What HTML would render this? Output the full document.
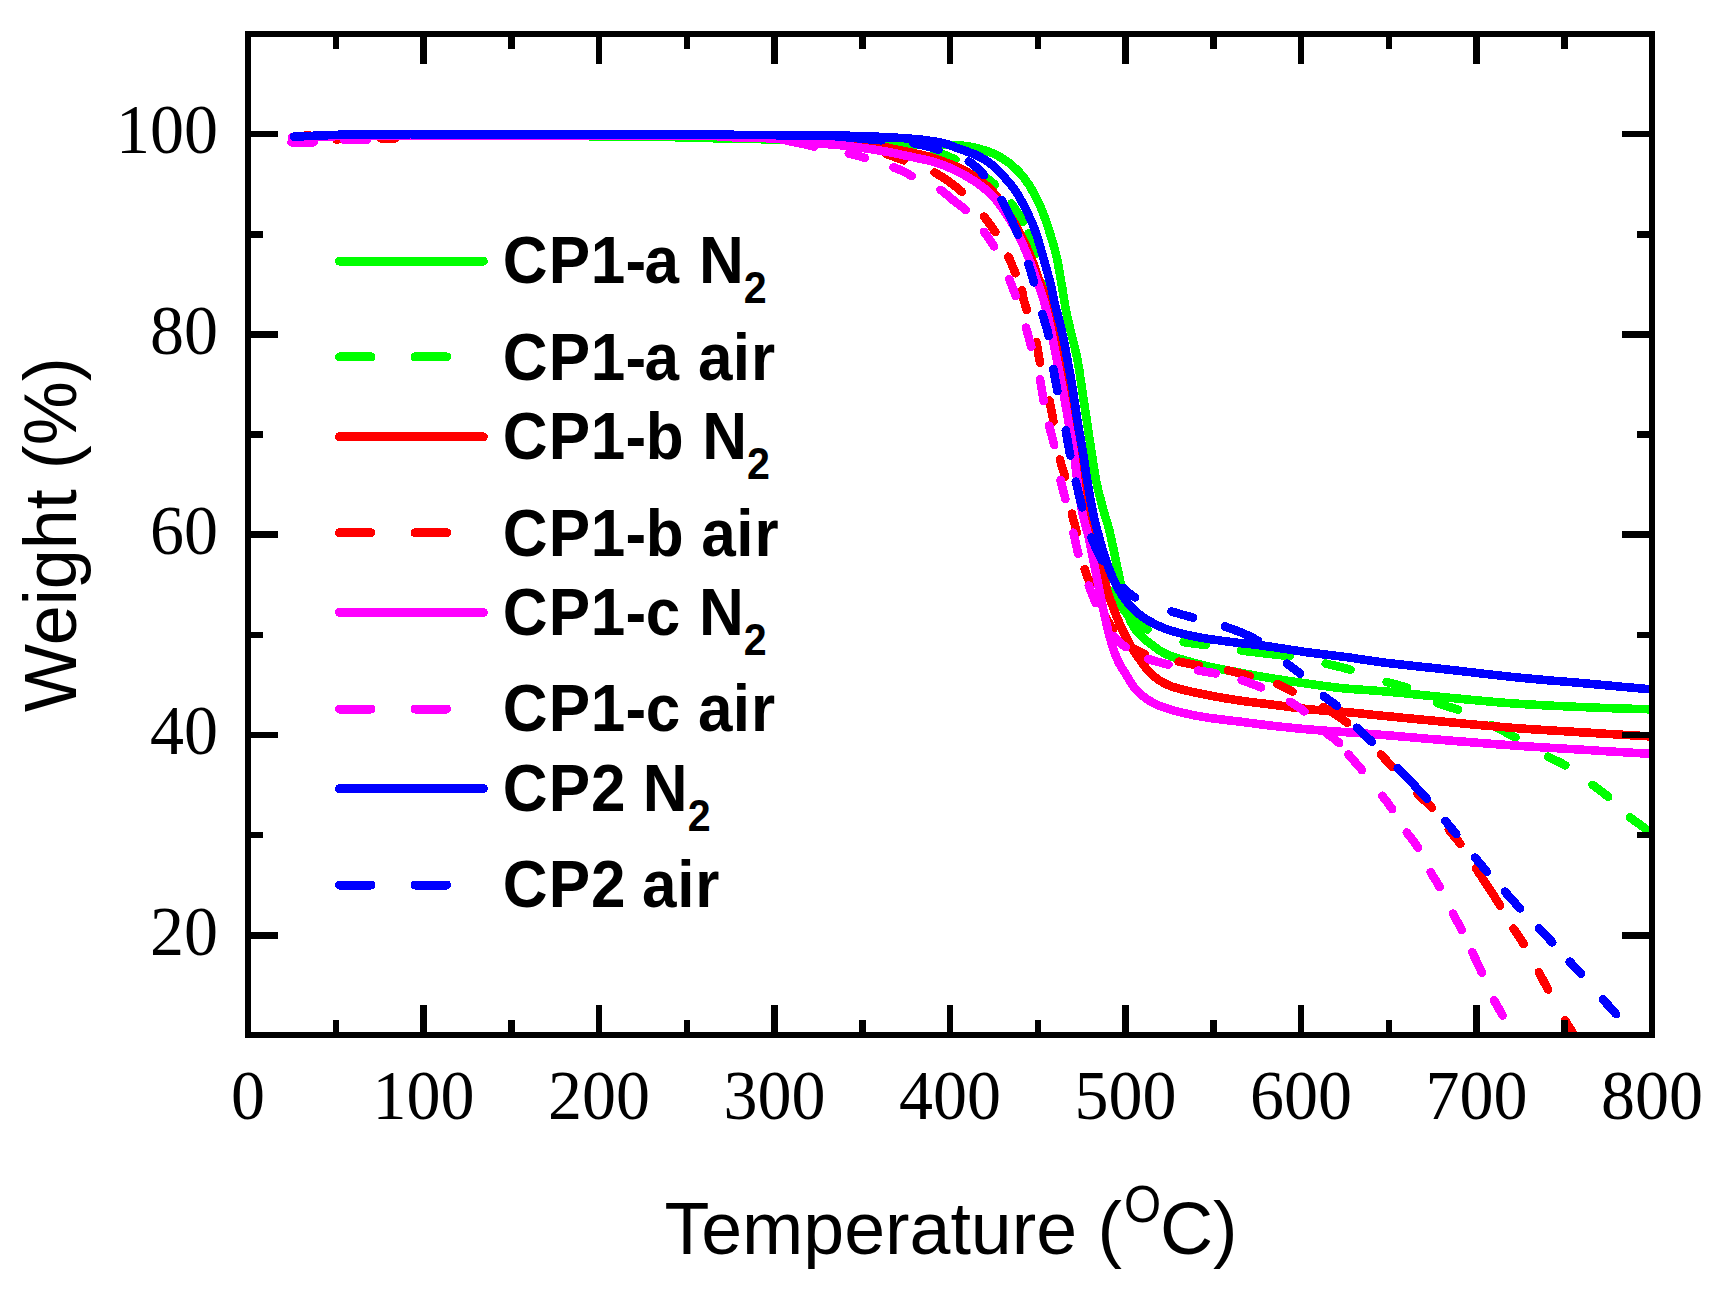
<!DOCTYPE html>
<html lang="en"><head><meta charset="utf-8"><title>TGA curves</title>
<style>html,body{margin:0;padding:0;background:#fff}svg{display:block}.tk{font-family:"Liberation Serif","Times New Roman",serif;font-size:68px;fill:#000}.ax{font-family:"Liberation Sans",Arial,sans-serif;font-size:75px;fill:#000}.lg{font-family:"Liberation Sans",Arial,sans-serif;font-weight:bold;font-size:67px;fill:#000}</style></head><body>
<svg width="1717" height="1293" viewBox="0 0 1717 1293">
<rect x="0" y="0" width="1717" height="1293" fill="#ffffff"/>
<defs><clipPath id="pc"><rect x="248" y="34" width="1404" height="1001"/></clipPath></defs>
<g clip-path="url(#pc)" fill="none" stroke-width="8.6" stroke-linecap="round" stroke-linejoin="round" shape-rendering="crispEdges">
<path stroke="#00ff00" d="M294.0 136.7 L297.1 136.6 L300.1 136.6 L303.2 136.5 L306.2 136.5 L309.3 136.4 L312.4 136.4 L315.4 136.3 L318.5 136.3 L321.5 136.2 L324.6 136.2 L327.6 136.1 L330.7 136.1 L333.7 136.0 L336.8 136.0 L339.8 135.9 L342.9 135.9 L345.9 135.8 L349.0 135.8 L352.0 135.8 L355.0 135.7 L358.1 135.7 L361.1 135.7 L364.2 135.6 L367.2 135.6 L370.2 135.6 L373.3 135.5 L376.3 135.5 L379.3 135.5 L382.4 135.4 L385.4 135.4 L388.4 135.4 L391.5 135.3 L394.5 135.3 L397.5 135.3 L400.6 135.3 L403.6 135.2 L406.6 135.2 L409.6 135.2 L412.7 135.2 L415.7 135.1 L418.7 135.1 L421.7 135.1 L424.8 135.1 L427.8 135.1 L430.8 135.0 L433.8 135.0 L436.8 135.0 L439.8 135.0 L442.9 135.0 L445.9 135.0 L448.9 135.0 L451.9 135.0 L454.9 135.0 L457.9 135.0 L460.9 135.0 L463.9 135.0 L466.9 135.0 L469.9 135.0 L472.9 135.0 L476.0 135.0 L479.0 135.0 L482.0 135.0 L485.0 135.0 L488.0 135.1 L491.0 135.1 L494.0 135.1 L497.0 135.1 L500.0 135.1 L502.9 135.1 L505.9 135.1 L508.9 135.1 L511.9 135.1 L514.9 135.2 L517.9 135.2 L520.9 135.2 L523.8 135.2 L526.8 135.2 L529.8 135.2 L532.8 135.3 L535.7 135.3 L538.7 135.3 L541.7 135.3 L544.6 135.4 L547.6 135.4 L550.5 135.5 L553.4 135.5 L556.4 135.6 L559.3 135.7 L562.2 135.8 L565.2 135.9 L568.1 135.9 L571.1 136.0 L574.0 136.0 L577.0 136.0 L579.9 136.1 L582.9 136.1 L585.9 136.1 L588.9 136.2 L591.9 136.2 L594.8 136.2 L597.8 136.2 L600.8 136.2 L603.8 136.3 L606.8 136.3 L609.8 136.3 L612.8 136.3 L615.8 136.3 L618.8 136.3 L621.8 136.4 L624.8 136.4 L627.7 136.4 L630.7 136.4 L633.7 136.4 L636.7 136.5 L639.7 136.5 L642.6 136.5 L645.6 136.5 L648.5 136.6 L651.5 136.6 L654.4 136.7 L657.4 136.7 L660.3 136.8 L663.2 136.9 L666.2 136.9 L669.1 137.0 L672.0 137.1 L674.9 137.2 L677.9 137.3 L680.8 137.4 L683.7 137.5 L686.6 137.5 L689.5 137.6 L692.5 137.7 L695.4 137.8 L698.3 137.9 L701.3 137.9 L704.2 138.0 L707.1 138.1 L710.1 138.1 L713.0 138.2 L716.0 138.2 L718.9 138.3 L721.9 138.3 L724.8 138.4 L727.8 138.5 L730.7 138.5 L733.7 138.6 L736.6 138.6 L739.5 138.7 L742.5 138.8 L745.4 138.8 L748.4 138.9 L751.3 138.9 L754.2 139.0 L757.2 139.1 L760.1 139.1 L763.0 139.2 L766.0 139.3 L768.9 139.3 L771.9 139.4 L774.8 139.5 L777.7 139.5 L780.7 139.6 L783.6 139.7 L786.5 139.7 L789.5 139.8 L792.4 139.9 L795.4 139.9 L798.3 140.0 L801.2 140.1 L804.2 140.1 L807.1 140.2 L810.1 140.3 L813.0 140.3 L815.9 140.4 L818.9 140.5 L821.8 140.5 L824.8 140.6 L827.7 140.7 L830.6 140.7 L833.6 140.8 L836.5 140.9 L839.4 140.9 L842.4 141.0 L845.3 141.1 L848.2 141.2 L851.1 141.2 L854.0 141.3 L857.0 141.4 L859.9 141.5 L862.8 141.6 L865.7 141.7 L868.6 141.8 L871.5 141.9 L874.4 142.0 L877.3 142.1 L880.2 142.2 L883.1 142.3 L885.9 142.4 L888.8 142.6 L891.7 142.7 L894.6 142.8 L897.5 142.9 L900.4 143.0 L903.3 143.2 L906.1 143.3 L909.0 143.4 L911.9 143.5 L914.8 143.6 L917.7 143.7 L920.6 143.8 L923.5 143.9 L926.5 144.0 L929.4 144.1 L932.3 144.2 L935.2 144.2 L938.2 144.3 L941.1 144.4 L943.9 144.6 L946.8 144.7 L949.7 144.8 L952.6 145.0 L955.4 145.2 L958.2 145.4 L961.0 145.6 L963.7 145.8 L966.3 146.1 L968.9 146.5 L971.4 146.9 L973.9 147.4 L976.4 148.0 L978.8 148.6 L981.2 149.3 L983.5 150.0 L985.8 150.8 L988.1 151.5 L990.2 152.3 L992.4 153.1 L994.4 154.0 L996.5 155.0 L998.4 156.1 L1000.4 157.2 L1002.2 158.3 L1004.1 159.5 L1005.8 160.7 L1007.6 162.0 L1009.3 163.2 L1011.0 164.6 L1012.6 166.0 L1014.2 167.4 L1015.8 168.8 L1017.3 170.3 L1018.8 171.8 L1020.2 173.4 L1021.6 175.0 L1023.0 176.6 L1024.3 178.3 L1025.6 180.0 L1026.8 181.8 L1028.1 183.6 L1029.3 185.4 L1030.4 187.2 L1031.5 189.1 L1032.6 191.0 L1033.7 192.9 L1034.8 194.8 L1035.8 196.8 L1036.8 198.8 L1037.8 200.8 L1038.8 202.9 L1039.7 205.0 L1040.6 207.0 L1041.5 209.1 L1042.4 211.3 L1043.2 213.4 L1044.0 215.6 L1044.8 217.8 L1045.6 220.1 L1046.4 222.3 L1047.1 224.6 L1047.9 226.8 L1048.6 229.1 L1049.3 231.4 L1050.1 233.6 L1050.8 235.9 L1051.5 238.2 L1052.2 240.5 L1052.9 242.8 L1053.6 245.2 L1054.2 247.5 L1054.9 249.9 L1055.5 252.3 L1056.1 254.7 L1056.7 257.1 L1057.2 259.5 L1057.7 262.0 L1058.2 264.6 L1058.6 267.1 L1059.1 269.6 L1059.5 272.2 L1060.0 274.8 L1060.4 277.4 L1060.8 279.9 L1061.3 282.5 L1061.7 285.0 L1062.2 287.6 L1062.6 290.2 L1063.0 292.8 L1063.4 295.4 L1063.8 298.0 L1064.3 300.6 L1064.7 303.1 L1065.1 305.7 L1065.6 308.2 L1066.1 310.8 L1066.6 313.3 L1067.1 315.7 L1067.6 318.2 L1068.2 320.6 L1068.8 323.1 L1069.4 325.5 L1069.9 327.9 L1070.5 330.3 L1071.1 332.8 L1071.7 335.2 L1072.3 337.6 L1072.9 340.0 L1073.5 342.4 L1074.1 344.8 L1074.7 347.2 L1075.2 349.7 L1075.8 352.1 L1076.4 354.5 L1076.9 357.0 L1077.4 359.5 L1077.9 362.0 L1078.3 364.6 L1078.7 367.1 L1079.2 369.7 L1079.6 372.3 L1079.9 374.9 L1080.3 377.6 L1080.7 380.2 L1081.1 382.8 L1081.5 385.4 L1081.9 388.1 L1082.3 390.7 L1082.6 393.3 L1083.0 395.9 L1083.4 398.5 L1083.8 401.1 L1084.2 403.7 L1084.6 406.3 L1085.0 408.9 L1085.4 411.5 L1085.8 414.1 L1086.2 416.7 L1086.6 419.4 L1087.0 422.0 L1087.4 424.6 L1087.8 427.2 L1088.2 429.8 L1088.5 432.4 L1088.9 435.1 L1089.3 437.7 L1089.7 440.3 L1090.1 442.9 L1090.5 445.5 L1090.9 448.1 L1091.3 450.7 L1091.7 453.3 L1092.1 456.0 L1092.5 458.6 L1092.9 461.2 L1093.3 463.8 L1093.7 466.4 L1094.1 469.0 L1094.5 471.6 L1094.9 474.1 L1095.4 476.7 L1095.8 479.2 L1096.3 481.7 L1096.9 484.2 L1097.4 486.6 L1098.0 489.1 L1098.5 491.5 L1099.1 493.9 L1099.7 496.3 L1100.4 498.7 L1101.0 501.1 L1101.6 503.5 L1102.2 505.9 L1102.9 508.2 L1103.5 510.5 L1104.2 512.9 L1104.9 515.2 L1105.6 517.5 L1106.3 519.8 L1107.0 522.1 L1107.7 524.4 L1108.4 526.8 L1109.0 529.1 L1109.6 531.5 L1110.2 534.0 L1110.7 536.4 L1111.3 538.9 L1111.8 541.3 L1112.3 543.8 L1112.8 546.3 L1113.4 548.8 L1113.9 551.3 L1114.4 553.8 L1114.9 556.3 L1115.4 558.8 L1115.9 561.2 L1116.4 563.7 L1117.0 566.2 L1117.5 568.7 L1118.1 571.1 L1118.6 573.6 L1119.1 576.0 L1119.7 578.5 L1120.2 581.0 L1120.7 583.5 L1121.3 585.9 L1121.8 588.5 L1122.2 591.0 L1122.7 593.6 L1123.1 596.2 L1123.6 598.8 L1124.0 601.3 L1124.5 603.8 L1125.1 606.2 L1125.7 608.6 L1126.4 610.8 L1127.1 613.0 L1127.9 615.2 L1128.8 617.4 L1129.8 619.5 L1130.8 621.6 L1131.8 623.6 L1132.9 625.5 L1134.0 627.3 L1135.2 629.1 L1136.4 630.7 L1137.8 632.4 L1139.2 633.9 L1140.7 635.5 L1142.2 637.0 L1143.8 638.4 L1145.4 639.8 L1147.1 641.2 L1148.8 642.5 L1150.5 643.8 L1152.2 645.1 L1153.9 646.4 L1155.6 647.7 L1157.4 648.9 L1159.2 650.2 L1161.0 651.3 L1162.9 652.5 L1164.9 653.5 L1166.9 654.5 L1168.9 655.4 L1171.1 656.2 L1173.3 657.0 L1175.7 657.7 L1178.0 658.3 L1180.3 659.0 L1182.7 659.7 L1185.0 660.4 L1187.3 661.1 L1189.7 661.7 L1192.0 662.4 L1194.4 663.0 L1196.7 663.7 L1199.1 664.3 L1201.5 664.9 L1203.9 665.5 L1206.4 666.0 L1208.8 666.6 L1211.3 667.1 L1213.7 667.7 L1216.2 668.2 L1218.7 668.7 L1221.2 669.2 L1223.8 669.7 L1226.3 670.1 L1228.8 670.6 L1231.3 671.1 L1233.9 671.6 L1236.4 672.0 L1238.9 672.5 L1241.5 673.0 L1244.0 673.5 L1246.5 673.9 L1249.1 674.4 L1251.6 674.8 L1254.2 675.3 L1256.7 675.8 L1259.3 676.2 L1261.8 676.6 L1264.4 677.1 L1267.0 677.5 L1269.5 677.9 L1272.1 678.4 L1274.7 678.8 L1277.3 679.2 L1279.9 679.6 L1282.5 680.0 L1285.1 680.4 L1287.7 680.8 L1290.3 681.2 L1292.9 681.6 L1295.5 682.0 L1298.2 682.4 L1300.8 682.7 L1303.4 683.1 L1306.1 683.5 L1308.7 683.8 L1311.3 684.2 L1314.0 684.6 L1316.6 684.9 L1319.3 685.3 L1321.9 685.7 L1324.6 686.0 L1327.2 686.4 L1329.9 686.7 L1332.5 687.1 L1335.2 687.4 L1337.9 687.7 L1340.6 688.0 L1343.3 688.3 L1346.1 688.5 L1348.8 688.8 L1351.6 689.0 L1354.4 689.2 L1357.2 689.4 L1360.0 689.6 L1362.8 689.8 L1365.6 690.0 L1368.5 690.2 L1371.3 690.3 L1374.1 690.5 L1376.9 690.8 L1379.7 691.0 L1382.4 691.2 L1385.2 691.4 L1388.0 691.7 L1390.7 691.9 L1393.5 692.2 L1396.2 692.4 L1398.9 692.7 L1401.7 693.0 L1404.4 693.2 L1407.1 693.5 L1409.9 693.8 L1412.6 694.1 L1415.3 694.4 L1418.0 694.6 L1420.8 694.9 L1423.5 695.2 L1426.2 695.5 L1428.9 695.7 L1431.7 696.0 L1434.4 696.3 L1437.1 696.6 L1439.9 696.8 L1442.6 697.1 L1445.4 697.4 L1448.1 697.6 L1450.8 697.9 L1453.6 698.1 L1456.3 698.4 L1459.1 698.6 L1461.8 698.9 L1464.6 699.2 L1467.3 699.4 L1470.1 699.7 L1472.8 700.0 L1475.6 700.2 L1478.3 700.5 L1481.1 700.7 L1483.8 701.0 L1486.6 701.2 L1489.3 701.5 L1492.1 701.7 L1494.9 702.0 L1497.6 702.2 L1500.4 702.5 L1503.2 702.7 L1505.9 702.9 L1508.7 703.1 L1511.5 703.3 L1514.3 703.5 L1517.1 703.7 L1519.9 703.9 L1522.7 704.1 L1525.6 704.2 L1528.4 704.4 L1531.2 704.6 L1534.0 704.7 L1536.9 704.9 L1539.7 705.1 L1542.6 705.2 L1545.4 705.4 L1548.3 705.5 L1551.2 705.7 L1554.0 705.8 L1556.9 706.0 L1559.8 706.1 L1562.6 706.2 L1565.5 706.4 L1568.4 706.5 L1571.3 706.6 L1574.1 706.7 L1577.0 706.9 L1579.9 707.0 L1582.8 707.1 L1585.7 707.2 L1588.6 707.3 L1591.4 707.5 L1594.3 707.6 L1597.2 707.7 L1600.1 707.8 L1603.0 707.9 L1605.9 708.0 L1608.8 708.1 L1611.8 708.2 L1614.7 708.3 L1617.6 708.3 L1620.5 708.4 L1623.4 708.5 L1626.3 708.6 L1629.2 708.7 L1632.2 708.8 L1635.1 708.9 L1638.0 709.0 L1640.9 709.0 L1643.8 709.1 L1646.7 709.2 L1649.7 709.3 L1652.6 709.4 L1655.5 709.5 L1658.4 709.6 L1661.3 709.7 L1664.2 709.8 L1667.1 709.9 L1670.0 710.0"/>
<path stroke="#00ff00" d="M294.0 136.7 L297.1 136.6 L300.1 136.6 L303.2 136.5 L306.3 136.5 L309.3 136.4 L312.4 136.4 L315.5 136.3 L318.5 136.3 L321.6 136.2 L324.6 136.2 L327.7 136.1 L330.8 136.1 L333.8 136.0 L336.9 136.0 L339.9 135.9 L343.0 135.9 L346.0 135.8 L349.1 135.8 L352.1 135.8 L355.2 135.7 L358.2 135.7 L361.3 135.7 L364.3 135.6 L367.4 135.6 L370.4 135.6 L373.5 135.5 L376.5 135.5 L379.5 135.5 L382.6 135.4 L385.6 135.4 L388.7 135.4 L391.7 135.3 L394.7 135.3 L397.8 135.3 L400.8 135.3 L403.9 135.2 L406.9 135.2 L409.9 135.2 L413.0 135.2 L416.0 135.1 L419.0 135.1 L422.0 135.1 L425.1 135.1 L428.1 135.1 L431.1 135.0 L434.2 135.0 L437.2 135.0 L440.2 135.0 L443.2 135.0 L446.2 135.0 L449.3 135.0 L452.3 135.0 L455.3 135.0 L458.3 135.0 L461.3 135.0 L464.3 135.0 L467.4 135.0 L470.4 135.0 L473.4 135.0 L476.4 135.0 L479.4 135.0 L482.4 135.0 L485.4 135.0 L488.4 135.1 L491.4 135.1 L494.5 135.1 L497.5 135.1 L500.5 135.1 L503.5 135.1 L506.5 135.1 L509.5 135.1 L512.5 135.1 L515.4 135.2 L518.4 135.2 L521.4 135.2 L524.4 135.2 L527.4 135.2 L530.4 135.2 L533.4 135.3 L536.3 135.3 L539.3 135.3 L542.3 135.3 L545.2 135.4 L548.2 135.4 L551.1 135.5 L554.1 135.6 L557.0 135.6 L559.9 135.7 L562.9 135.8 L565.8 135.9 L568.8 135.9 L571.7 136.0 L574.7 136.0 L577.7 136.1 L580.6 136.1 L583.6 136.1 L586.6 136.1 L589.6 136.2 L592.6 136.2 L595.6 136.2 L598.6 136.2 L601.6 136.2 L604.6 136.3 L607.6 136.3 L610.6 136.3 L613.6 136.3 L616.6 136.3 L619.6 136.3 L622.6 136.4 L625.6 136.4 L628.6 136.4 L631.6 136.4 L634.5 136.4 L637.5 136.5 L640.5 136.5 L643.5 136.5 L646.4 136.6 L649.4 136.6 L652.4 136.6 L655.3 136.7 L658.3 136.7 L661.2 136.8 L664.1 136.9 L667.1 137.0 L670.0 137.0 L672.9 137.1 L675.9 137.2 L678.8 137.3 L681.7 137.4 L684.6 137.5 L687.6 137.6 L690.5 137.7 L693.4 137.7 L696.4 137.8 L699.3 137.9 L702.2 137.9 L705.2 138.0 L708.1 138.1 L711.1 138.1 L714.0 138.2 L717.0 138.2 L720.0 138.3 L722.9 138.4 L725.9 138.4 L728.8 138.5 L731.8 138.5 L734.7 138.6 L737.7 138.7 L740.6 138.7 L743.6 138.8 L746.5 138.8 L749.5 138.9 L752.4 139.0 L755.4 139.0 L758.3 139.1 L761.3 139.2 L764.2 139.2 L767.1 139.3 L770.1 139.4 L773.0 139.4 L776.0 139.5 L778.9 139.6 L781.8 139.6 L784.8 139.7 L787.7 139.8 L790.7 139.9 L793.6 139.9 L796.6 140.0 L799.6 140.0 L802.5 140.1 L805.5 140.2 L808.4 140.2 L811.4 140.3 L814.4 140.4 L817.3 140.5 L820.3 140.5 L823.2 140.6 L826.1 140.7 L829.1 140.8 L832.0 140.8 L834.9 140.9 L837.9 141.0 L840.8 141.1 L843.7 141.2 L846.6 141.3 L849.5 141.4 L852.4 141.5 L855.2 141.6 L858.1 141.7 L860.9 141.8 L863.8 142.0 L866.7 142.1 L869.5 142.3 L872.4 142.4 L875.3 142.6 L878.2 142.8 L881.0 143.0 L883.9 143.2 L886.8 143.4 L889.6 143.6 L892.4 143.8 L895.3 144.1 L898.0 144.3 L900.8 144.6 L903.5 144.9 L906.2 145.2 L908.9 145.5 L911.5 145.8 L914.1 146.2 M934.1 150.7 L936.4 151.5 L938.6 152.3 L940.8 153.2 L942.9 154.1 L945.1 155.0 L947.2 155.9 L949.2 156.8 L951.3 157.7 L953.4 158.6 L955.4 159.5 M978.2 172.0 L980.0 173.2 L981.8 174.4 L983.5 175.7 L985.3 176.9 L987.0 178.2 L988.6 179.5 L990.3 180.8 L991.8 182.1 L993.4 183.5 L995.0 184.9 M1011.5 203.5 L1012.8 205.3 L1014.0 207.0 L1015.2 208.8 L1016.4 210.6 L1017.6 212.4 L1018.7 214.2 L1019.8 216.1 L1020.9 218.0 L1022.0 219.9 L1023.0 221.9 M1028.5 233.5 L1029.5 235.6 L1030.4 237.8 L1031.3 240.0 L1032.3 242.2 L1033.2 244.4 L1034.0 246.6 L1034.9 248.9 L1035.7 251.1 L1036.6 253.4 M1046.3 283.7 L1047.0 286.3 L1047.7 288.8 L1048.4 291.4 L1049.0 294.0 L1049.7 296.5 L1050.3 299.1 L1051.0 301.7 L1051.6 304.4 M1059.3 338.7 L1059.8 341.4 L1060.4 344.1 L1060.9 346.8 L1061.5 349.5 L1062.0 352.3 L1062.5 355.0 L1063.0 357.7 L1063.6 360.4 M1069.8 396.2 L1070.2 399.0 L1070.6 401.9 L1071.0 404.7 L1071.5 407.5 L1071.9 410.4 L1072.3 413.2 L1072.7 416.1 L1073.1 418.9 M1079.3 454.7 L1079.7 457.5 L1080.2 460.3 L1080.6 463.1 L1081.0 466.0 L1081.5 468.8 L1081.9 471.6 L1082.3 474.4 L1082.8 477.2 M1089.0 513.0 L1089.6 515.6 L1090.2 518.3 L1090.8 521.0 L1091.4 523.6 L1092.0 526.3 L1092.6 528.9 L1093.2 531.5 L1093.9 534.1 M1100.7 559.3 L1101.5 561.8 L1102.3 564.2 L1103.1 566.7 L1103.9 569.1 L1104.7 571.5 L1105.6 573.9 L1106.5 576.3 L1107.4 578.6 M1112.9 591.1 L1113.9 593.2 L1114.9 595.2 L1116.0 597.1 L1117.1 599.1 L1118.2 601.0 L1119.3 602.9 L1120.5 604.8 L1121.7 606.7 L1122.9 608.5 L1124.1 610.4 L1125.4 612.2 L1126.7 613.9 L1128.1 615.5 L1129.5 617.0 L1131.1 618.5 L1132.7 619.9 L1134.5 621.2 L1136.3 622.5 L1138.1 623.7 L1139.9 624.9 L1141.8 626.1 L1143.7 627.2 L1145.6 628.3 L1147.6 629.4 M1183.6 642.1 L1186.2 642.5 L1188.9 642.9 L1191.7 643.3 L1194.4 643.6 L1197.2 643.9 L1200.0 644.3 L1202.8 644.6 L1205.6 645.0 M1240.9 650.5 L1243.6 650.8 L1246.3 651.2 L1249.0 651.5 L1251.7 651.8 L1254.4 652.1 L1257.1 652.4 L1259.8 652.8 L1262.5 653.1 L1265.2 653.4 L1268.0 653.7 L1270.7 654.0 L1273.4 654.3 L1276.1 654.6 L1278.9 655.0 L1281.6 655.3 L1284.3 655.6 L1287.0 655.9 L1289.7 656.3 M1325.7 663.6 L1328.2 664.2 L1330.7 664.8 L1333.2 665.4 L1335.7 665.9 L1338.2 666.5 L1340.7 667.1 L1343.2 667.7 L1345.7 668.4 L1348.1 669.0 L1350.5 669.7 M1386.6 681.9 L1389.1 682.6 L1391.7 683.3 L1394.3 684.0 L1396.9 684.7 L1399.4 685.4 L1402.0 686.1 L1404.5 686.9 L1406.9 687.7 M1437.4 703.2 L1439.6 704.0 L1441.9 704.7 L1444.2 705.4 L1446.6 706.2 L1448.9 706.9 L1451.3 707.6 L1453.6 708.3 L1456.0 709.0 L1458.2 709.8 M1491.5 725.1 L1493.5 726.1 L1495.5 727.1 L1497.6 728.1 L1499.6 729.1 L1501.6 730.1 L1503.6 731.2 L1505.5 732.2 L1507.5 733.2 L1509.5 734.3 L1511.5 735.3 L1513.4 736.4 L1515.4 737.4 M1548.2 756.7 L1550.3 757.8 L1552.5 758.9 L1554.6 759.9 L1556.8 761.0 L1559.0 762.0 L1561.1 763.1 L1563.2 764.2 L1565.3 765.3 M1592.6 784.9 L1594.3 786.2 L1596.1 787.5 L1597.8 788.8 L1599.6 790.1 L1601.3 791.4 L1603.1 792.7 L1604.8 794.0 L1606.5 795.4 L1608.2 796.8 M1630.1 817.3 L1631.8 818.7 L1633.6 820.0 L1635.3 821.3 L1637.1 822.6 L1638.9 823.9 L1640.7 825.2 L1642.5 826.5 L1644.3 827.8 L1646.1 829.2 L1647.9 830.5 L1649.6 831.8 L1651.4 833.2 L1653.1 834.5 L1654.8 835.9 L1656.6 837.2 L1658.3 838.6 L1660.0 840.0"/>
<path stroke="#ff0000" d="M294.0 137.5 L297.1 137.4 L300.2 137.3 L303.3 137.2 L306.3 137.2 L309.4 137.1 L312.5 137.0 L315.6 136.9 L318.7 136.8 L321.7 136.8 L324.8 136.7 L327.9 136.6 L331.0 136.6 L334.0 136.5 L337.1 136.4 L340.2 136.4 L343.2 136.3 L346.3 136.3 L349.3 136.2 L352.4 136.2 L355.5 136.1 L358.5 136.1 L361.6 136.0 L364.6 136.0 L367.6 136.0 L370.7 135.9 L373.7 135.9 L376.8 135.8 L379.8 135.8 L382.9 135.8 L385.9 135.7 L388.9 135.7 L392.0 135.6 L395.0 135.6 L398.0 135.6 L401.1 135.5 L404.1 135.5 L407.1 135.5 L410.1 135.4 L413.2 135.4 L416.2 135.4 L419.2 135.4 L422.2 135.3 L425.3 135.3 L428.3 135.3 L431.3 135.3 L434.3 135.3 L437.4 135.2 L440.4 135.2 L443.4 135.2 L446.4 135.2 L449.5 135.2 L452.5 135.2 L455.5 135.2 L458.5 135.2 L461.5 135.2 L464.5 135.2 L467.6 135.2 L470.6 135.2 L473.6 135.1 L476.6 135.1 L479.6 135.1 L482.6 135.1 L485.7 135.1 L488.7 135.1 L491.7 135.1 L494.7 135.1 L497.7 135.1 L500.7 135.1 L503.7 135.1 L506.7 135.1 L509.8 135.1 L512.8 135.1 L515.8 135.1 L518.8 135.1 L521.8 135.1 L524.8 135.1 L527.8 135.0 L530.8 135.0 L533.8 135.0 L536.8 135.0 L539.8 135.0 L542.8 135.0 L545.8 135.0 L548.8 135.0 L551.8 135.0 L554.8 135.0 L557.8 135.0 L560.8 135.0 L563.8 135.0 L566.8 135.0 L569.8 135.0 L572.8 135.0 L575.8 135.0 L578.8 135.0 L581.8 135.0 L584.8 135.0 L587.8 135.0 L590.8 135.0 L593.8 135.0 L596.8 135.0 L599.8 135.0 L602.8 135.0 L605.8 135.0 L608.8 135.0 L611.8 135.0 L614.8 135.0 L617.8 135.0 L620.8 135.0 L623.8 135.0 L626.8 135.1 L629.8 135.1 L632.7 135.1 L635.7 135.1 L638.7 135.1 L641.7 135.1 L644.7 135.1 L647.7 135.2 L650.7 135.2 L653.7 135.2 L656.7 135.2 L659.6 135.3 L662.6 135.3 L665.6 135.3 L668.6 135.3 L671.6 135.3 L674.6 135.4 L677.5 135.4 L680.5 135.4 L683.5 135.4 L686.5 135.5 L689.4 135.5 L692.4 135.5 L695.4 135.6 L698.3 135.6 L701.3 135.6 L704.3 135.6 L707.2 135.7 L710.2 135.7 L713.2 135.7 L716.1 135.8 L719.1 135.8 L722.1 135.9 L725.0 135.9 L728.0 136.0 L731.0 136.0 L733.9 136.1 L736.9 136.1 L739.9 136.2 L742.8 136.2 L745.8 136.3 L748.7 136.4 L751.6 136.4 L754.6 136.5 L757.5 136.6 L760.4 136.6 L763.4 136.7 L766.3 136.8 L769.2 136.9 L772.1 137.0 L775.0 137.0 L777.9 137.1 L780.8 137.2 L783.6 137.3 L786.5 137.4 L789.4 137.5 L792.3 137.7 L795.2 137.8 L798.0 137.9 L800.9 138.1 L803.8 138.2 L806.6 138.4 L809.5 138.5 L812.4 138.7 L815.2 138.9 L818.1 139.1 L820.9 139.3 L823.7 139.5 L826.5 139.7 L829.3 139.9 L832.1 140.1 L834.9 140.3 L837.7 140.6 L840.5 140.8 L843.2 141.0 L846.0 141.3 L848.7 141.6 L851.4 141.8 L854.1 142.1 L856.7 142.4 L859.4 142.7 L862.0 143.0 L864.6 143.3 L867.2 143.7 L869.8 144.1 L872.3 144.6 L874.9 145.1 L877.4 145.5 L879.9 146.0 L882.4 146.6 L884.9 147.1 L887.4 147.6 L889.9 148.2 L892.4 148.7 L894.9 149.2 L897.4 149.8 L899.9 150.3 L902.3 150.8 L904.8 151.3 L907.3 151.8 L909.8 152.3 L912.3 152.8 L914.8 153.3 L917.3 153.9 L919.8 154.4 L922.2 155.0 L924.6 155.6 L927.0 156.2 L929.3 156.8 L931.7 157.5 L933.9 158.2 L936.2 159.0 L938.4 159.8 L940.6 160.6 L942.8 161.4 L945.0 162.2 L947.2 163.0 L949.4 163.8 L951.5 164.7 L953.7 165.5 L955.8 166.4 L957.9 167.3 L960.0 168.2 L962.0 169.2 L964.0 170.2 L965.9 171.3 L967.8 172.4 L969.7 173.6 L971.5 174.7 L973.3 175.9 L975.1 177.1 L976.9 178.3 L978.7 179.6 L980.4 180.8 L982.2 182.1 L983.9 183.4 L985.6 184.8 L987.2 186.1 L988.8 187.5 L990.3 189.0 L991.7 190.5 L993.1 192.1 L994.5 193.7 L995.8 195.4 L997.1 197.1 L998.4 198.8 L999.6 200.6 L1000.8 202.4 L1002.0 204.2 L1003.2 206.0 L1004.4 207.8 L1005.7 209.6 L1006.9 211.4 L1008.1 213.2 L1009.3 215.0 L1010.5 216.8 L1011.7 218.6 L1012.8 220.5 L1014.0 222.3 L1015.1 224.2 L1016.2 226.1 L1017.3 228.0 L1018.3 230.0 L1019.4 232.0 L1020.4 234.0 L1021.4 236.0 L1022.4 238.0 L1023.3 240.0 L1024.3 242.1 L1025.2 244.1 L1026.2 246.2 L1027.1 248.3 L1028.0 250.4 L1028.9 252.5 L1029.8 254.6 L1030.6 256.7 L1031.5 258.9 L1032.3 261.0 L1033.2 263.2 L1034.0 265.4 L1034.8 267.6 L1035.6 269.8 L1036.4 272.0 L1037.1 274.2 L1037.9 276.5 L1038.7 278.7 L1039.5 280.9 L1040.3 283.1 L1041.2 285.3 L1042.0 287.4 L1042.8 289.6 L1043.6 291.8 L1044.4 294.1 L1045.1 296.3 L1045.9 298.6 L1046.6 300.9 L1047.2 303.2 L1047.9 305.5 L1048.5 307.9 L1049.2 310.2 L1049.8 312.6 L1050.4 315.0 L1051.0 317.4 L1051.6 319.9 L1052.2 322.3 L1052.7 324.7 L1053.3 327.2 L1053.8 329.6 L1054.4 332.1 L1054.9 334.5 L1055.4 337.0 L1055.9 339.5 L1056.4 342.0 L1056.9 344.6 L1057.4 347.1 L1057.9 349.6 L1058.4 352.1 L1058.8 354.7 L1059.3 357.2 L1059.8 359.7 L1060.3 362.2 L1060.8 364.7 L1061.3 367.2 L1061.8 369.7 L1062.4 372.2 L1062.9 374.7 L1063.4 377.2 L1063.9 379.6 L1064.4 382.1 L1064.9 384.7 L1065.4 387.2 L1065.9 389.7 L1066.3 392.2 L1066.8 394.7 L1067.2 397.3 L1067.7 399.8 L1068.1 402.4 L1068.6 405.0 L1069.0 407.5 L1069.5 410.1 L1069.9 412.7 L1070.3 415.2 L1070.8 417.8 L1071.2 420.3 L1071.7 422.9 L1072.1 425.4 L1072.6 428.0 L1073.0 430.6 L1073.5 433.1 L1073.9 435.7 L1074.4 438.2 L1074.8 440.8 L1075.3 443.3 L1075.7 445.9 L1076.2 448.4 L1076.6 451.0 L1077.0 453.6 L1077.4 456.2 L1077.8 458.8 L1078.2 461.4 L1078.6 464.0 L1079.0 466.6 L1079.4 469.2 L1079.8 471.8 L1080.2 474.4 L1080.7 477.0 L1081.1 479.6 L1081.5 482.1 L1082.0 484.7 L1082.4 487.2 L1082.9 489.8 L1083.3 492.3 L1083.8 494.9 L1084.3 497.4 L1084.8 499.9 L1085.3 502.4 L1085.8 504.9 L1086.3 507.4 L1086.9 509.8 L1087.5 512.2 L1088.1 514.6 L1088.7 517.0 L1089.3 519.3 L1090.0 521.7 L1090.7 524.0 L1091.4 526.3 L1092.1 528.6 L1092.8 530.9 L1093.4 533.3 L1094.1 535.6 L1094.8 537.9 L1095.4 540.3 L1096.0 542.7 L1096.7 545.1 L1097.3 547.4 L1097.9 549.8 L1098.5 552.2 L1099.1 554.6 L1099.7 557.0 L1100.3 559.4 L1100.9 561.9 L1101.5 564.3 L1102.0 566.7 L1102.5 569.2 L1103.0 571.7 L1103.5 574.3 L1104.0 576.8 L1104.5 579.3 L1105.1 581.7 L1105.6 584.2 L1106.2 586.6 L1106.9 588.9 L1107.5 591.2 L1108.3 593.5 L1109.0 595.8 L1109.8 598.0 L1110.5 600.2 L1111.3 602.5 L1112.1 604.7 L1112.9 606.9 L1113.8 609.1 L1114.6 611.2 L1115.4 613.4 L1116.2 615.6 L1117.1 617.7 L1118.0 619.8 L1118.9 622.0 L1119.8 624.1 L1120.7 626.1 L1121.6 628.2 L1122.6 630.2 L1123.6 632.3 L1124.6 634.3 L1125.6 636.2 L1126.6 638.2 L1127.7 640.2 L1128.8 642.1 L1129.9 644.0 L1130.9 645.9 L1132.1 647.8 L1133.2 649.7 L1134.3 651.5 L1135.5 653.4 L1136.7 655.2 L1137.9 657.0 L1139.1 658.8 L1140.4 660.5 L1141.6 662.3 L1142.9 664.0 L1144.2 665.8 L1145.5 667.5 L1146.8 669.2 L1148.2 670.8 L1149.6 672.4 L1151.1 673.8 L1152.7 675.2 L1154.3 676.6 L1156.0 677.9 L1157.7 679.2 L1159.6 680.4 L1161.4 681.6 L1163.4 682.7 L1165.3 683.7 L1167.4 684.7 L1169.4 685.6 L1171.5 686.4 L1173.7 687.1 L1175.9 687.8 L1178.2 688.5 L1180.6 689.2 L1183.0 689.8 L1185.4 690.4 L1187.8 690.9 L1190.3 691.5 L1192.8 692.0 L1195.4 692.6 L1197.9 693.1 L1200.4 693.6 L1202.9 694.1 L1205.4 694.6 L1207.9 695.1 L1210.4 695.6 L1212.9 696.1 L1215.4 696.6 L1218.0 697.0 L1220.5 697.5 L1223.1 697.9 L1225.6 698.4 L1228.2 698.8 L1230.8 699.2 L1233.4 699.6 L1236.0 700.0 L1238.6 700.4 L1241.2 700.8 L1243.9 701.2 L1246.5 701.5 L1249.2 701.9 L1251.8 702.2 L1254.5 702.5 L1257.2 702.9 L1259.8 703.2 L1262.5 703.5 L1265.2 703.8 L1267.9 704.2 L1270.6 704.5 L1273.3 704.8 L1275.9 705.1 L1278.6 705.5 L1281.2 705.8 L1283.9 706.2 L1286.5 706.6 L1289.2 706.9 L1291.8 707.3 L1294.5 707.6 L1297.1 708.0 L1299.8 708.3 L1302.5 708.6 L1305.2 708.9 L1307.9 709.2 L1310.6 709.5 L1313.4 709.7 L1316.1 709.9 L1318.9 710.2 L1321.7 710.4 L1324.6 710.5 L1327.4 710.7 L1330.2 710.9 L1333.0 711.1 L1335.8 711.3 L1338.6 711.5 L1341.4 711.7 L1344.2 711.9 L1347.0 712.2 L1349.7 712.4 L1352.4 712.7 L1355.2 713.0 L1357.9 713.2 L1360.6 713.5 L1363.4 713.8 L1366.1 714.1 L1368.8 714.4 L1371.5 714.7 L1374.2 714.9 L1377.0 715.2 L1379.7 715.5 L1382.4 715.8 L1385.2 716.0 L1387.9 716.3 L1390.6 716.6 L1393.4 716.8 L1396.1 717.1 L1398.8 717.4 L1401.6 717.7 L1404.3 717.9 L1407.0 718.2 L1409.8 718.5 L1412.5 718.7 L1415.2 719.0 L1418.0 719.3 L1420.7 719.5 L1423.4 719.8 L1426.2 720.1 L1428.9 720.3 L1431.7 720.6 L1434.4 720.8 L1437.1 721.1 L1439.9 721.4 L1442.6 721.6 L1445.4 721.9 L1448.1 722.1 L1450.9 722.4 L1453.6 722.6 L1456.4 722.9 L1459.1 723.1 L1461.9 723.4 L1464.6 723.7 L1467.4 723.9 L1470.1 724.2 L1472.9 724.4 L1475.6 724.7 L1478.4 724.9 L1481.1 725.2 L1483.9 725.4 L1486.7 725.7 L1489.4 725.9 L1492.2 726.1 L1494.9 726.4 L1497.7 726.6 L1500.5 726.9 L1503.2 727.1 L1506.0 727.3 L1508.8 727.5 L1511.6 727.8 L1514.4 728.0 L1517.2 728.2 L1519.9 728.4 L1522.7 728.6 L1525.5 728.8 L1528.3 729.0 L1531.2 729.2 L1534.0 729.4 L1536.8 729.6 L1539.6 729.7 L1542.4 729.9 L1545.2 730.1 L1548.1 730.3 L1550.9 730.5 L1553.7 730.6 L1556.6 730.8 L1559.4 731.0 L1562.2 731.1 L1565.1 731.3 L1567.9 731.5 L1570.7 731.6 L1573.6 731.8 L1576.4 732.0 L1579.2 732.2 L1582.1 732.3 L1584.9 732.5 L1587.7 732.7 L1590.6 732.8 L1593.4 733.0 L1596.2 733.2 L1599.1 733.4 L1601.9 733.5 L1604.7 733.7 L1607.6 733.9 L1610.4 734.0 L1613.2 734.2 L1616.1 734.4 L1618.9 734.6 L1621.7 734.7 L1624.6 734.9 L1627.4 735.1 L1630.2 735.2 L1633.1 735.4 L1635.9 735.6 L1638.7 735.7 L1641.6 735.9 L1644.4 736.1 L1647.2 736.2 L1650.1 736.4 L1652.9 736.6 L1655.8 736.7 L1658.6 736.9 L1661.5 737.0 L1664.3 737.2 L1667.2 737.3 L1670.0 737.5"/>
<path stroke="#ff0000" d="M294.0 137.5 L297.1 137.4 L300.2 137.3 L303.3 137.2 L306.3 137.2 L309.4 137.1 L312.5 137.0 L315.6 136.9 L318.7 136.8 L321.7 136.8 L324.8 136.7 L327.9 136.6 L331.0 136.6 L334.0 136.5 L337.1 136.4 L340.2 136.4 L343.2 136.3 L346.3 136.3 L349.3 136.2 L352.4 136.2 L355.5 136.1 L358.5 136.1 L361.6 136.0 L364.6 136.0 L367.6 136.0 L370.7 135.9 L373.7 135.9 L376.8 135.8 L379.8 135.8 L382.9 135.8 L385.9 135.7 L388.9 135.7 L392.0 135.6 L395.0 135.6 L398.0 135.6 L401.1 135.5 L404.1 135.5 L407.1 135.5 L410.1 135.4 L413.2 135.4 L416.2 135.4 L419.2 135.4 L422.2 135.3 L425.3 135.3 L428.3 135.3 L431.3 135.3 L434.3 135.3 L437.4 135.2 L440.4 135.2 L443.4 135.2 L446.4 135.2 L449.5 135.2 L452.5 135.2 L455.5 135.2 L458.5 135.2 L461.5 135.2 L464.5 135.2 L467.6 135.2 L470.6 135.2 L473.6 135.1 L476.6 135.1 L479.6 135.1 L482.7 135.1 L485.7 135.1 L488.7 135.1 L491.7 135.1 L494.7 135.1 L497.7 135.1 L500.7 135.1 L503.7 135.1 L506.8 135.1 L509.8 135.1 L512.8 135.1 L515.8 135.1 L518.8 135.1 L521.8 135.1 L524.8 135.1 L527.8 135.0 L530.8 135.0 L533.8 135.0 L536.8 135.0 L539.8 135.0 L542.8 135.0 L545.8 135.0 L548.8 135.0 L551.9 135.0 L554.9 135.0 L557.9 135.0 L560.9 135.0 L563.9 135.0 L566.9 135.0 L569.9 135.0 L572.9 135.0 L575.8 135.0 L578.8 135.0 L581.8 135.0 L584.8 135.0 L587.8 135.0 L590.8 135.0 L593.8 135.0 L596.8 135.0 L599.8 135.0 L602.8 135.0 L605.8 135.0 L608.8 135.0 L611.8 135.0 L614.8 135.0 L617.8 135.0 L620.8 135.0 L623.8 135.1 L626.7 135.1 L629.7 135.1 L632.7 135.1 L635.7 135.1 L638.7 135.1 L641.7 135.2 L644.7 135.2 L647.7 135.2 L650.7 135.2 L653.7 135.3 L656.6 135.3 L659.6 135.3 L662.6 135.4 L665.6 135.4 L668.6 135.4 L671.5 135.4 L674.5 135.5 L677.5 135.5 L680.4 135.6 L683.4 135.6 L686.3 135.6 L689.3 135.7 L692.3 135.7 L695.2 135.7 L698.1 135.8 L701.1 135.8 L704.0 135.9 L707.0 135.9 L709.9 136.0 L712.9 136.0 L715.8 136.1 L718.8 136.1 L721.7 136.2 L724.7 136.3 L727.6 136.4 L730.5 136.4 L733.5 136.5 L736.4 136.6 L739.3 136.7 L742.3 136.8 L745.2 136.9 L748.1 137.0 L751.0 137.2 L753.9 137.3 L756.8 137.4 L759.6 137.5 L762.5 137.7 L765.4 137.8 L768.2 137.9 L771.0 138.1 L773.8 138.2 L776.6 138.4 L779.4 138.5 L782.2 138.7 L785.0 138.9 L787.7 139.2 L790.4 139.5 M826.2 143.8 L828.9 144.1 L831.6 144.4 L834.4 144.7 L837.1 145.0 L839.8 145.2 L842.5 145.5 L845.2 145.8 L847.9 146.1 M886.1 153.8 L888.3 154.6 L890.5 155.4 L892.7 156.2 L894.9 157.1 L897.1 157.9 L899.3 158.7 L901.5 159.5 L903.7 160.3 M934.6 172.5 L936.6 173.6 L938.5 174.7 L940.4 175.9 L942.3 177.1 L944.2 178.3 L946.1 179.5 L947.9 180.8 L949.7 182.1 L951.5 183.4 L953.3 184.8 L955.0 186.1 L956.7 187.5 L958.4 188.9 L960.1 190.3 L961.7 191.7 M984.1 216.6 L985.5 218.5 L987.0 220.4 L988.4 222.3 L989.9 224.2 L991.3 226.2 L992.6 228.1 L994.0 230.1 L995.3 232.1 M1008.4 256.7 L1009.5 259.0 L1010.5 261.4 L1011.5 263.8 L1012.5 266.2 L1013.5 268.6 L1014.5 271.0 L1015.5 273.3 M1022.0 290.1 L1022.5 292.8 L1022.9 295.6 L1023.3 298.2 L1023.9 300.8 L1024.6 303.2 L1025.3 305.5 L1026.1 307.8 L1026.9 310.1 M1036.5 342.0 L1037.0 344.6 L1037.4 347.2 L1037.8 349.8 L1038.2 352.5 L1038.6 355.2 L1039.1 357.8 L1039.5 360.4 L1040.0 363.0 M1049.4 400.4 L1050.0 403.0 L1050.5 405.6 L1051.0 408.2 L1051.5 410.9 L1052.0 413.5 L1052.5 416.2 L1053.0 418.8 L1053.5 421.5 M1059.9 459.5 L1060.6 462.0 L1061.3 464.5 L1062.1 466.9 L1062.9 469.3 L1063.7 471.7 L1064.4 474.1 L1065.2 476.6 M1071.9 513.7 L1072.5 516.4 L1073.2 519.1 L1074.0 521.8 L1074.7 524.5 L1075.4 527.2 L1076.1 529.9 L1076.8 532.6 M1084.7 569.2 L1085.5 571.8 L1086.4 574.4 L1087.3 576.9 L1088.3 579.4 L1089.3 581.9 L1090.3 584.3 M1105.4 616.7 L1106.6 618.9 L1107.9 621.1 L1109.2 623.3 L1110.5 625.4 L1111.9 627.5 L1113.3 629.6 M1135.0 649.2 L1137.3 650.6 L1139.7 651.9 L1142.2 653.0 L1144.8 654.1 M1178.6 661.7 L1181.2 662.2 L1183.7 662.7 L1186.3 663.2 L1188.9 663.7 L1191.4 664.2 L1194.0 664.7 L1196.6 665.1 L1199.2 665.6 M1227.9 670.5 L1230.4 671.0 L1232.8 671.6 L1235.3 672.2 L1237.7 672.8 L1240.1 673.5 L1242.5 674.1 L1244.9 674.8 L1247.3 675.4 L1249.7 676.1 M1277.2 684.0 L1279.5 685.0 L1281.8 686.1 L1284.0 687.1 L1286.1 688.3 L1288.3 689.4 L1290.5 690.5 L1292.6 691.7 M1323.3 707.1 L1325.2 708.2 L1327.1 709.3 L1329.0 710.5 L1330.9 711.7 L1332.8 712.8 L1334.7 714.0 L1336.5 715.2 L1338.4 716.4 L1340.2 717.7 L1342.0 718.9 L1343.8 720.2 L1345.5 721.5 L1347.2 722.8 M1380.8 754.5 L1382.5 756.2 L1384.1 758.0 L1385.8 759.8 L1387.4 761.5 L1389.0 763.3 L1390.7 765.1 L1392.3 766.9 M1417.5 793.9 L1419.1 795.4 L1420.7 797.0 L1422.4 798.5 L1424.0 800.0 L1425.6 801.5 L1427.2 803.1 L1428.8 804.6 L1430.4 806.2 L1431.9 807.8 M1448.8 829.7 L1450.2 831.5 L1451.7 833.3 L1453.1 835.0 L1454.6 836.7 L1456.1 838.5 L1457.5 840.3 L1459.0 842.0 L1460.4 843.8 M1475.9 868.2 L1477.1 870.0 L1478.3 871.9 L1479.5 873.8 L1480.8 875.6 L1482.0 877.5 L1483.2 879.4 L1484.4 881.2 L1485.6 883.1 L1486.8 884.9 L1488.1 886.8 L1489.3 888.7 L1490.5 890.5 L1491.7 892.4 L1492.9 894.3 L1494.1 896.1 L1495.3 898.0 L1496.5 899.9 L1497.7 901.8 L1498.9 903.7 L1500.0 905.6 M1513.5 928.5 L1514.8 930.4 L1516.0 932.4 L1517.3 934.3 L1518.6 936.2 L1519.9 938.1 L1521.1 940.1 L1522.4 942.0 L1523.6 944.0 M1538.8 972.2 L1539.9 974.4 L1541.1 976.6 L1542.3 978.7 L1543.4 980.9 L1544.6 983.0 L1545.8 985.2 L1547.0 987.3 L1548.1 989.5 M1565.0 1020.3 L1566.2 1022.3 L1567.4 1024.2 L1568.7 1026.1 L1569.9 1028.0 L1571.1 1030.0 L1572.3 1032.0 L1573.4 1034.0 L1574.6 1036.0 L1575.7 1038.0 L1576.8 1040.0 L1577.9 1042.1 M336.5 139.6H337.5 M380.3 138.3H395.7 M436.3 136H448.7 M486 135.7H496 M353 134H371.7 M306 135.5H309.7"/>
<path stroke="#ff00ff" d="M292.0 137.2 L295.1 137.1 L298.2 137.0 L301.2 137.0 L304.3 136.9 L307.4 136.8 L310.5 136.7 L313.6 136.6 L316.6 136.6 L319.7 136.5 L322.8 136.4 L325.8 136.4 L328.9 136.3 L332.0 136.3 L335.0 136.2 L338.1 136.1 L341.1 136.1 L344.2 136.0 L347.2 136.0 L350.3 135.9 L353.3 135.9 L356.4 135.8 L359.4 135.8 L362.5 135.7 L365.5 135.7 L368.6 135.7 L371.6 135.6 L374.6 135.6 L377.7 135.6 L380.7 135.6 L383.7 135.5 L386.7 135.5 L389.8 135.5 L392.8 135.5 L395.8 135.4 L398.8 135.4 L401.9 135.4 L404.9 135.4 L407.9 135.4 L410.9 135.4 L413.9 135.3 L416.9 135.3 L419.9 135.3 L423.0 135.3 L426.0 135.3 L429.0 135.3 L432.0 135.3 L435.0 135.2 L438.0 135.2 L441.0 135.2 L444.0 135.2 L447.1 135.2 L450.1 135.2 L453.1 135.2 L456.1 135.2 L459.1 135.2 L462.1 135.2 L465.1 135.2 L468.1 135.2 L471.1 135.2 L474.2 135.1 L477.2 135.1 L480.2 135.1 L483.2 135.1 L486.2 135.1 L489.2 135.1 L492.2 135.1 L495.2 135.1 L498.2 135.1 L501.2 135.1 L504.2 135.1 L507.3 135.1 L510.3 135.1 L513.3 135.1 L516.3 135.1 L519.3 135.1 L522.3 135.1 L525.3 135.1 L528.3 135.1 L531.3 135.0 L534.3 135.0 L537.3 135.0 L540.3 135.0 L543.3 135.0 L546.3 135.0 L549.3 135.0 L552.3 135.0 L555.3 135.0 L558.3 135.0 L561.3 135.0 L564.3 135.0 L567.3 135.0 L570.3 135.0 L573.3 135.0 L576.3 135.0 L579.3 135.0 L582.3 135.0 L585.3 135.0 L588.3 135.0 L591.3 135.0 L594.3 135.0 L597.3 135.0 L600.3 135.0 L603.3 135.0 L606.3 135.0 L609.3 135.0 L612.3 135.0 L615.3 135.0 L618.3 135.0 L621.3 135.1 L624.2 135.1 L627.2 135.1 L630.2 135.1 L633.2 135.1 L636.2 135.1 L639.2 135.1 L642.2 135.2 L645.2 135.2 L648.1 135.2 L651.1 135.2 L654.1 135.2 L657.1 135.2 L660.1 135.2 L663.2 135.2 L666.2 135.3 L669.2 135.3 L672.2 135.3 L675.2 135.3 L678.2 135.3 L681.2 135.3 L684.2 135.3 L687.2 135.3 L690.2 135.3 L693.1 135.4 L696.1 135.4 L699.0 135.4 L701.9 135.4 L704.8 135.5 L707.7 135.6 L710.5 135.7 L713.4 135.9 L716.2 136.0 L719.0 136.2 L721.9 136.4 L724.7 136.6 L727.5 136.8 L730.4 137.0 L733.2 137.2 L736.1 137.3 L738.9 137.5 L741.8 137.6 L744.7 137.7 L747.6 137.8 L750.6 137.8 L753.5 137.9 L756.5 138.0 L759.4 138.1 L762.4 138.1 L765.3 138.2 L768.2 138.3 L771.1 138.4 L774.0 138.5 L776.8 138.6 L779.6 138.7 L782.4 138.9 L785.1 139.2 L787.8 139.4 L790.5 139.7 L793.2 140.1 L795.9 140.4 L798.5 140.8 L801.1 141.2 L803.8 141.5 L806.4 141.9 L809.1 142.3 L811.8 142.6 L814.4 143.0 L817.1 143.3 L819.9 143.5 L822.6 143.8 L825.4 144.0 L828.2 144.2 L831.0 144.4 L833.8 144.7 L836.5 144.9 L839.3 145.1 L842.0 145.4 L844.7 145.7 L847.4 146.0 L850.1 146.3 L852.8 146.6 L855.4 147.0 L858.1 147.3 L860.8 147.7 L863.4 148.0 L866.0 148.4 L868.6 148.8 L871.3 149.2 L873.9 149.6 L876.4 150.0 L879.0 150.4 L881.6 150.8 L884.1 151.3 L886.7 151.7 L889.2 152.2 L891.7 152.7 L894.2 153.2 L896.7 153.7 L899.2 154.2 L901.7 154.8 L904.1 155.3 L906.6 155.8 L909.1 156.4 L911.6 156.9 L914.0 157.4 L916.5 158.0 L919.0 158.5 L921.5 159.0 L924.0 159.5 L926.5 160.0 L928.9 160.6 L931.3 161.2 L933.6 161.8 L935.9 162.5 L938.1 163.3 L940.3 164.1 L942.5 164.9 L944.7 165.7 L946.9 166.6 L949.0 167.5 L951.1 168.5 L953.1 169.4 L955.2 170.4 L957.2 171.4 L959.2 172.4 L961.1 173.4 L963.0 174.4 L965.0 175.5 L966.9 176.5 L968.8 177.6 L970.6 178.8 L972.5 179.9 L974.3 181.1 L976.2 182.4 L977.9 183.6 L979.7 184.9 L981.4 186.2 L983.1 187.5 L984.8 188.8 L986.4 190.2 L988.0 191.6 L989.6 193.0 L991.1 194.4 L992.6 195.9 L994.0 197.4 L995.4 199.1 L996.7 200.7 L998.0 202.5 L999.3 204.2 L1000.5 206.0 L1001.8 207.7 L1003.0 209.5 L1004.3 211.2 L1005.5 213.0 L1006.7 214.8 L1007.9 216.6 L1009.1 218.4 L1010.3 220.3 L1011.4 222.1 L1012.5 224.0 L1013.6 225.9 L1014.7 227.8 L1015.7 229.8 L1016.8 231.8 L1017.8 233.8 L1018.8 235.8 L1019.8 237.8 L1020.7 239.8 L1021.7 241.9 L1022.6 243.9 L1023.6 246.0 L1024.5 248.1 L1025.4 250.1 L1026.3 252.3 L1027.2 254.4 L1028.0 256.5 L1028.9 258.7 L1029.7 260.8 L1030.6 263.0 L1031.4 265.1 L1032.2 267.3 L1033.0 269.5 L1033.8 271.8 L1034.6 274.0 L1035.3 276.2 L1036.1 278.4 L1036.9 280.6 L1037.7 282.8 L1038.5 285.0 L1039.3 287.2 L1040.1 289.4 L1040.9 291.7 L1041.7 293.9 L1042.4 296.2 L1043.1 298.4 L1043.8 300.7 L1044.5 303.1 L1045.1 305.4 L1045.7 307.8 L1046.3 310.2 L1046.9 312.6 L1047.5 315.0 L1048.1 317.5 L1048.7 319.9 L1049.2 322.3 L1049.8 324.8 L1050.3 327.3 L1050.9 329.7 L1051.4 332.2 L1051.9 334.6 L1052.4 337.1 L1052.9 339.6 L1053.4 342.1 L1053.9 344.7 L1054.4 347.2 L1054.9 349.7 L1055.4 352.2 L1055.9 354.7 L1056.3 357.3 L1056.8 359.8 L1057.3 362.3 L1057.8 364.8 L1058.3 367.3 L1058.9 369.7 L1059.4 372.2 L1059.9 374.7 L1060.4 377.2 L1060.9 379.7 L1061.4 382.2 L1061.9 384.7 L1062.4 387.2 L1062.9 389.7 L1063.3 392.3 L1063.8 394.8 L1064.3 397.4 L1064.7 399.9 L1065.2 402.5 L1065.6 405.0 L1066.0 407.6 L1066.5 410.1 L1066.9 412.7 L1067.4 415.3 L1067.8 417.8 L1068.2 420.4 L1068.7 422.9 L1069.1 425.5 L1069.6 428.0 L1070.1 430.6 L1070.5 433.1 L1071.0 435.6 L1071.5 438.2 L1071.9 440.7 L1072.4 443.3 L1072.8 445.8 L1073.2 448.4 L1073.6 451.0 L1074.0 453.6 L1074.3 456.3 L1074.7 458.9 L1075.0 461.6 L1075.3 464.3 L1075.6 467.0 L1076.0 469.7 L1076.3 472.4 L1076.6 475.1 L1076.9 477.7 L1077.3 480.4 L1077.6 483.0 L1078.0 485.6 L1078.4 488.3 L1078.8 490.9 L1079.1 493.5 L1079.5 496.2 L1079.9 498.8 L1080.3 501.4 L1080.8 503.9 L1081.2 506.5 L1081.7 509.0 L1082.1 511.5 L1082.7 514.0 L1083.2 516.4 L1083.8 518.8 L1084.4 521.2 L1085.0 523.6 L1085.7 526.0 L1086.3 528.3 L1086.9 530.7 L1087.6 533.1 L1088.2 535.5 L1088.8 537.9 L1089.3 540.3 L1089.9 542.8 L1090.4 545.3 L1090.9 547.8 L1091.4 550.2 L1091.9 552.8 L1092.4 555.3 L1092.9 557.8 L1093.4 560.3 L1093.9 562.8 L1094.4 565.3 L1094.9 567.8 L1095.4 570.3 L1095.9 572.8 L1096.4 575.3 L1096.9 577.8 L1097.4 580.3 L1097.9 582.8 L1098.4 585.3 L1098.9 587.8 L1099.4 590.3 L1099.9 592.8 L1100.4 595.3 L1100.9 597.8 L1101.4 600.3 L1101.9 602.8 L1102.4 605.3 L1102.9 607.8 L1103.5 610.3 L1104.0 612.7 L1104.5 615.2 L1105.1 617.7 L1105.6 620.1 L1106.2 622.6 L1106.7 625.0 L1107.3 627.4 L1107.9 629.8 L1108.5 632.2 L1109.1 634.6 L1109.8 637.0 L1110.4 639.3 L1111.1 641.6 L1111.8 643.9 L1112.5 646.2 L1113.2 648.5 L1114.0 650.7 L1114.8 653.0 L1115.6 655.2 L1116.5 657.3 L1117.3 659.4 L1118.3 661.5 L1119.2 663.5 L1120.3 665.4 L1121.4 667.3 L1122.6 669.2 L1123.7 671.0 L1124.9 672.8 L1126.1 674.6 L1127.3 676.5 L1128.4 678.3 L1129.5 680.3 L1130.7 682.2 L1131.8 684.0 L1133.0 685.8 L1134.3 687.5 L1135.6 689.1 L1137.1 690.6 L1138.5 692.1 L1140.1 693.6 L1141.7 695.0 L1143.4 696.4 L1145.1 697.7 L1146.9 699.0 L1148.7 700.2 L1150.5 701.3 L1152.4 702.4 L1154.3 703.4 L1156.3 704.4 L1158.4 705.3 L1160.6 706.2 L1162.8 707.0 L1165.0 707.8 L1167.3 708.5 L1169.5 709.3 L1171.8 709.9 L1174.1 710.6 L1176.5 711.2 L1178.9 711.9 L1181.3 712.5 L1183.7 713.0 L1186.2 713.6 L1188.6 714.1 L1191.1 714.7 L1193.6 715.2 L1196.2 715.7 L1198.7 716.1 L1201.2 716.6 L1203.8 717.0 L1206.4 717.4 L1208.9 717.8 L1211.6 718.2 L1214.2 718.5 L1216.9 718.9 L1219.5 719.2 L1222.2 719.5 L1224.9 719.8 L1227.6 720.2 L1230.3 720.5 L1233.0 720.8 L1235.7 721.1 L1238.4 721.4 L1241.1 721.7 L1243.7 722.1 L1246.4 722.4 L1249.0 722.8 L1251.7 723.1 L1254.4 723.5 L1257.0 723.8 L1259.7 724.2 L1262.3 724.5 L1265.0 724.8 L1267.7 725.2 L1270.3 725.5 L1273.0 725.8 L1275.7 726.1 L1278.4 726.4 L1281.1 726.7 L1283.8 727.0 L1286.6 727.3 L1289.3 727.6 L1292.0 727.8 L1294.7 728.1 L1297.5 728.4 L1300.2 728.6 L1303.0 728.9 L1305.7 729.1 L1308.5 729.4 L1311.2 729.6 L1314.0 729.8 L1316.8 730.1 L1319.6 730.3 L1322.4 730.5 L1325.2 730.7 L1328.0 730.9 L1330.8 731.1 L1333.6 731.3 L1336.4 731.5 L1339.2 731.7 L1342.0 731.9 L1344.8 732.1 L1347.6 732.3 L1350.4 732.5 L1353.1 732.7 L1355.9 732.9 L1358.7 733.1 L1361.5 733.3 L1364.3 733.5 L1367.1 733.7 L1369.9 734.0 L1372.7 734.2 L1375.5 734.4 L1378.3 734.6 L1381.1 734.8 L1383.8 735.0 L1386.6 735.3 L1389.4 735.5 L1392.2 735.7 L1394.9 735.9 L1397.7 736.2 L1400.5 736.4 L1403.2 736.6 L1406.0 736.9 L1408.8 737.1 L1411.5 737.4 L1414.3 737.6 L1417.1 737.8 L1419.8 738.1 L1422.6 738.3 L1425.4 738.5 L1428.1 738.8 L1430.9 739.0 L1433.6 739.3 L1436.4 739.5 L1439.2 739.7 L1442.0 739.9 L1444.7 740.2 L1447.5 740.4 L1450.3 740.6 L1453.1 740.8 L1455.8 741.1 L1458.6 741.3 L1461.4 741.5 L1464.2 741.7 L1467.0 741.9 L1469.7 742.2 L1472.5 742.4 L1475.3 742.6 L1478.1 742.8 L1480.9 743.0 L1483.7 743.3 L1486.5 743.5 L1489.3 743.7 L1492.0 743.9 L1494.8 744.1 L1497.6 744.3 L1500.4 744.5 L1503.2 744.7 L1506.0 744.9 L1508.8 745.1 L1511.6 745.3 L1514.4 745.5 L1517.2 745.7 L1520.0 745.9 L1522.8 746.1 L1525.7 746.3 L1528.5 746.5 L1531.3 746.6 L1534.1 746.8 L1536.9 747.0 L1539.8 747.2 L1542.6 747.4 L1545.4 747.5 L1548.2 747.7 L1551.1 747.9 L1553.9 748.0 L1556.7 748.2 L1559.6 748.4 L1562.4 748.6 L1565.2 748.7 L1568.1 748.9 L1570.9 749.1 L1573.7 749.2 L1576.6 749.4 L1579.4 749.6 L1582.2 749.7 L1585.1 749.9 L1587.9 750.1 L1590.7 750.2 L1593.6 750.4 L1596.4 750.6 L1599.2 750.8 L1602.0 750.9 L1604.9 751.1 L1607.7 751.3 L1610.5 751.4 L1613.4 751.6 L1616.2 751.8 L1619.0 751.9 L1621.9 752.1 L1624.7 752.3 L1627.5 752.4 L1630.4 752.6 L1633.2 752.8 L1636.0 752.9 L1638.9 753.1 L1641.7 753.3 L1644.5 753.5 L1647.4 753.6 L1650.2 753.8 L1653.0 754.0 L1655.9 754.1 L1658.7 754.3 L1661.5 754.5 L1664.3 754.7 L1667.2 754.8 L1670.0 755.0"/>
<path stroke="#ff00ff" d="M292.0 137.2 L295.1 137.1 L298.2 137.0 L301.3 137.0 L304.3 136.9 L307.4 136.8 L310.5 136.7 L313.6 136.6 L316.7 136.6 L319.7 136.5 L322.8 136.4 L325.9 136.4 L328.9 136.3 L332.0 136.3 L335.1 136.2 L338.1 136.1 L341.2 136.1 L344.2 136.0 L347.3 136.0 L350.4 135.9 L353.4 135.9 L356.5 135.8 L359.5 135.8 L362.6 135.7 L365.6 135.7 L368.6 135.7 L371.7 135.6 L374.7 135.6 L377.8 135.6 L380.8 135.6 L383.8 135.5 L386.9 135.5 L389.9 135.5 L392.9 135.5 L395.9 135.4 L399.0 135.4 L402.0 135.4 L405.0 135.4 L408.0 135.4 L411.0 135.3 L414.1 135.3 L417.1 135.3 L420.1 135.3 L423.1 135.3 L426.1 135.3 L429.1 135.2 L432.2 135.2 L435.2 135.2 L438.2 135.2 L441.2 135.2 L444.2 135.2 L447.2 135.2 L450.2 135.2 L453.2 135.2 L456.3 135.2 L459.3 135.2 L462.3 135.2 L465.3 135.2 L468.3 135.2 L471.3 135.2 L474.3 135.2 L477.3 135.2 L480.3 135.2 L483.4 135.2 L486.4 135.2 L489.4 135.2 L492.4 135.2 L495.4 135.2 L498.4 135.2 L501.4 135.2 L504.4 135.2 L507.4 135.2 L510.4 135.2 L513.4 135.2 L516.4 135.2 L519.4 135.2 L522.4 135.2 L525.4 135.2 L528.4 135.2 L531.4 135.2 L534.4 135.2 L537.4 135.2 L540.4 135.2 L543.4 135.2 L546.4 135.2 L549.4 135.2 L552.4 135.2 L555.4 135.2 L558.4 135.2 L561.4 135.2 L564.5 135.2 L567.5 135.2 L570.5 135.2 L573.5 135.2 L576.5 135.2 L579.5 135.2 L582.5 135.2 L585.5 135.2 L588.5 135.2 L591.5 135.2 L594.5 135.2 L597.5 135.2 L600.5 135.2 L603.5 135.2 L606.5 135.2 L609.5 135.2 L612.5 135.2 L615.5 135.2 L618.5 135.2 L621.5 135.2 L624.5 135.2 L627.5 135.2 L630.5 135.2 L633.5 135.3 L636.5 135.3 L639.4 135.3 L642.4 135.3 L645.4 135.3 L648.4 135.3 L651.4 135.3 L654.4 135.3 L657.4 135.3 L660.5 135.3 L663.5 135.3 L666.5 135.3 L669.5 135.4 L672.5 135.4 L675.5 135.4 L678.5 135.4 L681.5 135.4 L684.5 135.4 L687.5 135.4 L690.5 135.4 L693.5 135.5 L696.4 135.5 L699.3 135.5 L702.2 135.5 L705.1 135.6 L708.0 135.7 L710.9 135.8 L713.7 136.0 L716.6 136.2 L719.4 136.4 L722.2 136.6 L725.0 136.7 L727.9 136.9 L730.7 137.1 L733.6 137.3 L736.4 137.4 L739.3 137.6 L742.2 137.7 L745.1 137.8 L748.1 137.8 L751.1 137.9 L754.1 138.0 L757.1 138.0 L760.1 138.1 L763.0 138.1 L765.9 138.2 L768.8 138.3 L771.6 138.4 L774.4 138.6 L777.1 138.8 L779.7 139.1 L782.3 139.6 L784.8 140.1 L787.3 140.6 L789.8 141.2 L792.3 141.7 L794.8 142.2 L797.3 142.7 L799.7 143.2 L802.2 143.8 L804.7 144.3 L807.1 144.9 L809.5 145.4 L812.0 146.0 L814.4 146.6 M848.7 153.7 L851.5 154.3 L854.2 154.9 L856.9 155.6 L859.5 156.3 L862.2 157.1 L864.9 157.8 M893.5 167.3 L895.6 168.2 L897.8 169.0 L899.9 169.9 L902.0 170.8 L904.1 171.8 L906.0 172.8 L908.0 173.9 L909.9 175.1 L911.8 176.2 M940.5 189.9 L942.3 191.2 L944.0 192.5 L945.6 193.8 L947.3 195.2 L948.9 196.6 L950.5 198.0 L952.2 199.3 L953.8 200.7 L955.5 202.0 L957.2 203.3 L959.0 204.6 L960.7 205.9 L962.3 207.2 L964.0 208.5 L965.6 209.9 M984.0 231.8 L985.3 233.5 L986.6 235.3 L987.9 237.1 L989.2 238.9 L990.4 240.7 L991.6 242.6 L992.8 244.4 L994.0 246.3 M1009.4 279.2 L1010.3 281.6 L1011.2 283.9 L1012.1 286.3 L1013.0 288.7 L1013.9 291.1 L1014.8 293.5 L1015.7 295.9 M1026.0 327.5 L1026.6 329.9 L1027.3 332.3 L1028.0 334.7 L1028.7 337.1 L1029.3 339.5 L1030.0 341.9 L1030.6 344.3 L1031.3 346.7 M1040.0 379.4 L1040.5 382.0 L1041.0 384.7 L1041.4 387.4 L1041.9 390.1 L1042.3 392.9 L1042.8 395.6 L1043.2 398.3 L1043.7 401.0 M1049.2 425.6 L1049.8 428.1 L1050.4 430.5 L1051.1 432.9 L1051.7 435.3 L1052.4 437.8 L1053.0 440.2 L1053.6 442.6 L1054.2 445.1 M1060.6 480.1 L1061.2 482.9 L1061.9 485.6 L1062.6 488.3 L1063.3 491.1 L1064.0 493.8 L1064.7 496.5 L1065.4 499.2 M1073.4 532.7 L1074.0 535.3 L1074.6 538.0 L1075.2 540.7 L1075.8 543.3 L1076.4 546.0 L1077.0 548.6 L1077.6 551.3 L1078.3 553.8 M1088.8 585.5 L1089.6 587.8 L1090.4 590.0 L1091.3 592.2 L1092.2 594.4 L1093.0 596.6 L1093.9 598.8 L1094.8 600.9 L1095.7 603.1 M1113.3 636.0 L1114.9 637.8 L1116.6 639.5 L1118.3 641.2 L1120.1 642.8 L1122.0 644.3 L1123.9 645.8 L1125.9 647.2 M1148.1 658.9 L1150.5 659.7 L1152.9 660.5 L1155.5 661.2 L1158.0 661.9 L1160.6 662.6 L1163.2 663.3 L1165.8 663.9 L1168.4 664.6 M1198.2 670.5 L1201.1 671.0 L1204.0 671.5 L1207.0 672.0 L1209.9 672.4 L1212.8 672.9 L1215.7 673.4 M1241.7 680.3 L1244.2 681.1 L1246.7 681.9 L1249.1 682.8 L1251.6 683.7 L1254.0 684.6 L1256.4 685.5 L1258.8 686.4 L1261.1 687.4 M1290.1 701.8 L1292.2 703.1 L1294.3 704.4 L1296.4 705.7 L1298.5 707.1 L1300.5 708.5 L1302.5 709.9 L1304.4 711.4 M1327.3 733.7 L1329.0 735.0 L1330.7 736.3 L1332.5 737.6 L1334.2 738.9 L1335.9 740.3 L1337.6 741.6 L1339.2 743.1 M1348.5 754.4 L1350.0 756.2 L1351.5 757.9 L1353.0 759.7 L1354.5 761.4 L1356.0 763.1 L1357.5 764.8 L1359.0 766.6 L1360.5 768.3 L1362.0 770.1 M1382.3 795.8 L1383.7 797.7 L1385.2 799.5 L1386.6 801.4 L1388.0 803.3 L1389.4 805.2 L1390.8 807.1 L1392.1 809.1 M1406.8 832.4 L1408.2 834.3 L1409.6 836.2 L1411.1 838.1 L1412.5 839.9 L1414.0 841.8 L1415.4 843.7 L1416.7 845.7 L1418.0 847.7 M1430.7 872.3 L1432.0 874.4 L1433.3 876.6 L1434.6 878.7 L1435.9 880.8 L1437.2 882.9 L1438.5 885.0 L1439.7 887.2 M1453.1 913.7 L1454.2 915.7 L1455.2 917.8 L1456.3 919.8 L1457.4 921.8 L1458.5 923.8 L1459.6 925.9 L1460.6 927.9 L1461.7 929.9 M1472.3 952.2 L1473.3 954.2 L1474.2 956.3 L1475.2 958.3 L1476.1 960.4 L1477.1 962.4 L1478.0 964.5 L1479.0 966.5 L1479.9 968.6 L1480.9 970.6 L1481.8 972.7 M1494.1 1000.3 L1495.3 1002.5 L1496.5 1004.7 L1497.8 1006.9 L1499.0 1009.0 L1500.3 1011.2 L1501.5 1013.4 L1502.7 1015.6 M291.5 142.3H313.5 M344 139.8H367.2"/>
<path stroke="#0000ff" d="M294.0 136.7 L297.2 136.5 L300.3 136.4 L303.5 136.2 L306.6 136.1 L309.8 135.9 L312.9 135.8 L316.1 135.7 L319.2 135.5 L322.3 135.4 L325.4 135.3 L328.5 135.2 L331.7 135.0 L334.8 134.9 L337.9 134.8 L341.0 134.7 L344.0 134.6 L347.1 134.6 L350.2 134.5 L353.3 134.5 L356.3 134.5 L359.4 134.5 L362.4 134.4 L365.5 134.4 L368.5 134.4 L371.5 134.4 L374.6 134.4 L377.6 134.4 L380.6 134.3 L383.6 134.3 L386.6 134.3 L389.6 134.3 L392.6 134.3 L395.6 134.3 L398.6 134.3 L401.6 134.3 L404.6 134.3 L407.6 134.3 L410.6 134.2 L413.6 134.2 L416.6 134.2 L419.6 134.2 L422.6 134.2 L425.6 134.2 L428.6 134.2 L431.6 134.2 L434.6 134.2 L437.6 134.2 L440.6 134.2 L443.6 134.2 L446.6 134.2 L449.6 134.2 L452.6 134.2 L455.6 134.2 L458.6 134.2 L461.6 134.2 L464.6 134.2 L467.6 134.2 L470.6 134.2 L473.6 134.2 L476.6 134.2 L479.6 134.2 L482.6 134.2 L485.6 134.2 L488.6 134.2 L491.6 134.2 L494.7 134.2 L497.7 134.2 L500.7 134.2 L503.7 134.2 L506.7 134.2 L509.7 134.2 L512.7 134.2 L515.7 134.2 L518.7 134.2 L521.7 134.2 L524.7 134.2 L527.7 134.2 L530.7 134.2 L533.7 134.2 L536.7 134.2 L539.7 134.2 L542.7 134.2 L545.7 134.2 L548.7 134.2 L551.7 134.2 L554.7 134.2 L557.7 134.2 L560.7 134.2 L563.7 134.2 L566.7 134.2 L569.7 134.2 L572.7 134.2 L575.7 134.2 L578.7 134.2 L581.7 134.2 L584.7 134.2 L587.7 134.2 L590.7 134.2 L593.7 134.2 L596.7 134.2 L599.7 134.2 L602.7 134.2 L605.7 134.2 L608.7 134.2 L611.7 134.2 L614.7 134.2 L617.7 134.2 L620.7 134.3 L623.7 134.3 L626.7 134.3 L629.7 134.3 L632.7 134.3 L635.7 134.3 L638.7 134.3 L641.7 134.3 L644.7 134.3 L647.7 134.3 L650.7 134.3 L653.7 134.3 L656.7 134.3 L659.6 134.3 L662.6 134.3 L665.6 134.3 L668.6 134.3 L671.6 134.3 L674.6 134.3 L677.6 134.4 L680.6 134.4 L683.5 134.4 L686.5 134.4 L689.5 134.4 L692.5 134.5 L695.5 134.5 L698.4 134.5 L701.4 134.5 L704.4 134.5 L707.4 134.6 L710.4 134.6 L713.3 134.6 L716.3 134.6 L719.3 134.7 L722.3 134.7 L725.3 134.7 L728.2 134.7 L731.2 134.8 L734.2 134.8 L737.2 134.8 L740.2 134.8 L743.1 134.9 L746.1 134.9 L749.1 134.9 L752.1 134.9 L755.1 134.9 L758.1 134.9 L761.1 135.0 L764.1 135.0 L767.1 135.0 L770.1 135.0 L773.1 135.0 L776.0 135.0 L779.0 135.0 L782.0 135.0 L785.0 135.0 L788.0 135.1 L791.0 135.1 L794.0 135.1 L797.0 135.1 L800.0 135.1 L803.0 135.1 L806.0 135.1 L809.0 135.2 L811.9 135.2 L814.9 135.2 L817.9 135.2 L820.9 135.2 L823.8 135.3 L826.8 135.3 L829.7 135.3 L832.7 135.4 L835.6 135.4 L838.6 135.5 L841.5 135.5 L844.4 135.6 L847.4 135.7 L850.3 135.8 L853.2 135.9 L856.1 135.9 L859.0 136.0 L862.0 136.1 L864.9 136.2 L867.7 136.3 L870.6 136.4 L873.5 136.6 L876.4 136.7 L879.3 136.8 L882.1 137.0 L885.0 137.1 L887.9 137.3 L890.7 137.4 L893.5 137.6 L896.4 137.7 L899.2 137.9 L902.1 138.1 L904.9 138.3 L907.7 138.5 L910.5 138.7 L913.3 138.9 L916.0 139.1 L918.8 139.4 L921.4 139.7 L924.1 140.0 L926.8 140.3 L929.4 140.7 L932.1 141.1 L934.7 141.5 L937.2 142.0 L939.7 142.5 L942.2 143.0 L944.6 143.6 L946.9 144.2 L949.2 144.9 L951.3 145.8 L953.5 146.6 L955.7 147.5 L957.8 148.3 L960.1 149.1 L962.3 149.9 L964.6 150.6 L966.8 151.4 L969.0 152.2 L971.2 153.0 L973.4 153.8 L975.4 154.7 L977.5 155.7 L979.4 156.7 L981.4 157.8 L983.3 158.9 L985.2 160.0 L987.0 161.2 L988.8 162.4 L990.5 163.7 L992.2 165.0 L993.8 166.3 L995.4 167.7 L996.9 169.2 L998.5 170.7 L999.9 172.2 L1001.4 173.8 L1002.8 175.4 L1004.2 177.0 L1005.6 178.6 L1007.0 180.2 L1008.4 181.8 L1009.8 183.4 L1011.1 185.1 L1012.4 186.8 L1013.7 188.5 L1015.0 190.3 L1016.2 192.0 L1017.4 193.8 L1018.5 195.7 L1019.6 197.6 L1020.7 199.5 L1021.7 201.5 L1022.8 203.4 L1023.8 205.4 L1024.8 207.4 L1025.8 209.4 L1026.8 211.4 L1027.8 213.4 L1028.8 215.5 L1029.7 217.5 L1030.7 219.6 L1031.6 221.7 L1032.5 223.8 L1033.3 225.9 L1034.2 228.1 L1035.0 230.3 L1035.7 232.5 L1036.5 234.8 L1037.2 237.0 L1038.0 239.3 L1038.7 241.6 L1039.4 243.9 L1040.1 246.2 L1040.8 248.5 L1041.4 250.8 L1042.1 253.2 L1042.8 255.5 L1043.4 257.9 L1044.1 260.2 L1044.7 262.6 L1045.3 264.9 L1046.0 267.3 L1046.7 269.6 L1047.3 272.0 L1048.0 274.3 L1048.6 276.7 L1049.3 279.0 L1049.9 281.4 L1050.5 283.8 L1051.1 286.2 L1051.7 288.6 L1052.2 291.1 L1052.7 293.6 L1053.2 296.1 L1053.7 298.6 L1054.2 301.1 L1054.8 303.5 L1055.4 305.9 L1056.0 308.3 L1056.6 310.7 L1057.3 313.1 L1057.9 315.5 L1058.5 317.8 L1059.1 320.2 L1059.8 322.6 L1060.4 325.0 L1060.9 327.4 L1061.5 329.8 L1062.0 332.3 L1062.6 334.8 L1063.1 337.3 L1063.6 339.7 L1064.1 342.2 L1064.6 344.8 L1065.1 347.3 L1065.6 349.8 L1066.0 352.3 L1066.5 354.8 L1067.0 357.4 L1067.5 359.9 L1067.9 362.4 L1068.4 365.0 L1068.9 367.5 L1069.4 370.0 L1069.8 372.6 L1070.3 375.1 L1070.7 377.7 L1071.2 380.2 L1071.6 382.8 L1072.1 385.3 L1072.5 387.9 L1072.9 390.5 L1073.3 393.1 L1073.7 395.7 L1074.1 398.3 L1074.5 400.9 L1074.9 403.5 L1075.3 406.2 L1075.6 408.8 L1076.0 411.4 L1076.4 414.0 L1076.8 416.6 L1077.2 419.2 L1077.6 421.8 L1078.0 424.4 L1078.4 427.0 L1078.9 429.5 L1079.3 432.1 L1079.8 434.6 L1080.3 437.2 L1080.7 439.7 L1081.2 442.3 L1081.6 444.8 L1082.1 447.4 L1082.5 449.9 L1082.9 452.5 L1083.4 455.1 L1083.8 457.7 L1084.2 460.3 L1084.6 462.9 L1085.0 465.5 L1085.3 468.1 L1085.7 470.7 L1086.1 473.3 L1086.5 475.9 L1087.0 478.5 L1087.4 481.1 L1087.8 483.7 L1088.2 486.3 L1088.6 488.8 L1089.1 491.4 L1089.5 494.0 L1089.9 496.6 L1090.4 499.1 L1090.8 501.7 L1091.3 504.2 L1091.8 506.7 L1092.3 509.2 L1092.8 511.7 L1093.3 514.2 L1093.9 516.6 L1094.4 519.1 L1095.0 521.5 L1095.6 523.9 L1096.2 526.3 L1096.8 528.7 L1097.4 531.1 L1098.1 533.5 L1098.7 535.8 L1099.3 538.2 L1100.0 540.5 L1100.6 542.9 L1101.3 545.2 L1102.0 547.5 L1102.7 549.9 L1103.4 552.2 L1104.1 554.5 L1104.8 556.7 L1105.5 559.0 L1106.3 561.2 L1107.1 563.5 L1107.9 565.7 L1108.7 567.8 L1109.5 570.0 L1110.4 572.2 L1111.2 574.3 L1112.1 576.4 L1113.0 578.5 L1114.0 580.6 L1114.9 582.6 L1115.9 584.6 L1117.0 586.6 L1118.0 588.5 L1119.1 590.4 L1120.3 592.3 L1121.4 594.1 L1122.6 595.9 L1123.9 597.7 L1125.1 599.5 L1126.4 601.2 L1127.7 602.9 L1129.1 604.5 L1130.5 606.1 L1131.9 607.6 L1133.4 609.1 L1135.0 610.6 L1136.6 612.0 L1138.2 613.4 L1139.8 614.8 L1141.5 616.2 L1143.2 617.4 L1145.0 618.6 L1146.8 619.8 L1148.7 620.9 L1150.7 621.9 L1152.7 622.9 L1154.7 624.0 L1156.7 625.0 L1158.7 625.9 L1160.8 626.9 L1162.9 627.8 L1165.0 628.7 L1167.2 629.4 L1169.4 630.2 L1171.7 630.9 L1174.0 631.5 L1176.4 632.2 L1178.7 632.8 L1181.1 633.4 L1183.6 634.0 L1186.0 634.6 L1188.5 635.2 L1191.0 635.7 L1193.5 636.2 L1196.0 636.7 L1198.5 637.2 L1201.0 637.6 L1203.6 638.1 L1206.1 638.5 L1208.7 638.9 L1211.3 639.3 L1214.0 639.7 L1216.6 640.0 L1219.2 640.4 L1221.9 640.8 L1224.5 641.1 L1227.2 641.5 L1229.9 641.8 L1232.5 642.1 L1235.2 642.5 L1237.9 642.8 L1240.6 643.1 L1243.3 643.4 L1246.0 643.6 L1248.7 643.9 L1251.4 644.2 L1254.1 644.6 L1256.8 644.9 L1259.5 645.2 L1262.2 645.5 L1264.8 645.9 L1267.4 646.3 L1270.1 646.6 L1272.7 647.0 L1275.3 647.4 L1277.9 647.8 L1280.5 648.2 L1283.1 648.6 L1285.7 649.0 L1288.3 649.4 L1290.9 649.8 L1293.5 650.2 L1296.1 650.6 L1298.7 651.0 L1301.3 651.4 L1303.9 651.8 L1306.6 652.2 L1309.2 652.5 L1311.9 652.9 L1314.5 653.2 L1317.2 653.5 L1319.9 653.9 L1322.5 654.2 L1325.2 654.5 L1327.9 654.8 L1330.6 655.1 L1333.3 655.5 L1336.0 655.8 L1338.6 656.1 L1341.3 656.4 L1344.0 656.8 L1346.6 657.1 L1349.2 657.5 L1351.9 657.9 L1354.5 658.3 L1357.1 658.7 L1359.7 659.1 L1362.3 659.5 L1364.9 659.9 L1367.5 660.2 L1370.1 660.6 L1372.8 661.0 L1375.4 661.4 L1378.0 661.7 L1380.7 662.1 L1383.4 662.4 L1386.0 662.8 L1388.7 663.1 L1391.4 663.4 L1394.1 663.7 L1396.8 664.0 L1399.5 664.3 L1402.1 664.6 L1404.9 664.9 L1407.6 665.2 L1410.3 665.5 L1413.0 665.8 L1415.7 666.1 L1418.4 666.4 L1421.1 666.7 L1423.8 667.0 L1426.5 667.3 L1429.3 667.6 L1432.0 667.8 L1434.7 668.1 L1437.4 668.4 L1440.1 668.7 L1442.8 669.0 L1445.5 669.3 L1448.2 669.6 L1450.9 669.9 L1453.6 670.2 L1456.3 670.5 L1459.0 670.8 L1461.7 671.1 L1464.4 671.5 L1467.1 671.8 L1469.8 672.1 L1472.5 672.4 L1475.1 672.7 L1477.8 673.0 L1480.5 673.3 L1483.2 673.7 L1485.9 674.0 L1488.6 674.3 L1491.3 674.6 L1494.0 674.9 L1496.7 675.2 L1499.4 675.5 L1502.1 675.8 L1504.8 676.1 L1507.5 676.4 L1510.2 676.7 L1512.9 677.0 L1515.6 677.3 L1518.4 677.5 L1521.1 677.8 L1523.8 678.1 L1526.6 678.3 L1529.3 678.6 L1532.0 678.8 L1534.8 679.1 L1537.6 679.3 L1540.3 679.6 L1543.1 679.8 L1545.8 680.1 L1548.6 680.3 L1551.4 680.5 L1554.1 680.8 L1556.9 681.0 L1559.7 681.2 L1562.5 681.4 L1565.2 681.7 L1568.0 681.9 L1570.8 682.1 L1573.5 682.4 L1576.3 682.6 L1579.1 682.8 L1581.9 683.1 L1584.6 683.3 L1587.4 683.6 L1590.1 683.8 L1592.9 684.1 L1595.6 684.3 L1598.4 684.6 L1601.1 684.8 L1603.9 685.1 L1606.6 685.3 L1609.4 685.6 L1612.1 685.8 L1614.9 686.1 L1617.6 686.4 L1620.4 686.6 L1623.1 686.9 L1625.8 687.1 L1628.6 687.4 L1631.3 687.6 L1634.1 687.9 L1636.8 688.1 L1639.6 688.4 L1642.3 688.6 L1645.1 688.9 L1647.8 689.1 L1650.6 689.4 L1653.4 689.6 L1656.1 689.9 L1658.9 690.1 L1661.7 690.3 L1664.4 690.5 L1667.2 690.8 L1670.0 691.0"/>
<path stroke="#0000ff" d="M294.0 136.7 L297.2 136.5 L300.3 136.4 L303.5 136.2 L306.6 136.1 L309.8 135.9 L312.9 135.8 L316.1 135.7 L319.2 135.5 L322.3 135.4 L325.4 135.3 L328.5 135.2 L331.6 135.0 L334.8 134.9 L337.9 134.8 L341.0 134.7 L344.0 134.6 L347.1 134.6 L350.2 134.5 L353.3 134.5 L356.3 134.5 L359.4 134.5 L362.4 134.4 L365.4 134.4 L368.5 134.4 L371.5 134.4 L374.5 134.4 L377.6 134.4 L380.6 134.3 L383.6 134.3 L386.6 134.3 L389.6 134.3 L392.6 134.3 L395.6 134.3 L398.6 134.3 L401.6 134.3 L404.6 134.3 L407.6 134.3 L410.6 134.2 L413.6 134.2 L416.6 134.2 L419.6 134.2 L422.6 134.2 L425.6 134.2 L428.6 134.2 L431.6 134.2 L434.6 134.2 L437.6 134.2 L440.6 134.2 L443.6 134.2 L446.6 134.2 L449.6 134.2 L452.6 134.2 L455.6 134.2 L458.6 134.2 L461.6 134.2 L464.6 134.2 L467.6 134.2 L470.6 134.2 L473.6 134.2 L476.6 134.2 L479.6 134.2 L482.6 134.2 L485.6 134.2 L488.6 134.2 L491.6 134.2 L494.6 134.2 L497.6 134.2 L500.6 134.2 L503.6 134.2 L506.6 134.2 L509.6 134.2 L512.6 134.2 L515.6 134.2 L518.6 134.2 L521.6 134.2 L524.6 134.2 L527.6 134.2 L530.6 134.2 L533.6 134.2 L536.6 134.2 L539.6 134.2 L542.6 134.2 L545.6 134.2 L548.6 134.2 L551.6 134.2 L554.6 134.2 L557.6 134.2 L560.6 134.2 L563.6 134.2 L566.6 134.2 L569.6 134.2 L572.6 134.2 L575.6 134.2 L578.7 134.2 L581.7 134.2 L584.7 134.2 L587.7 134.2 L590.7 134.2 L593.7 134.2 L596.7 134.2 L599.7 134.2 L602.7 134.2 L605.7 134.2 L608.7 134.2 L611.7 134.2 L614.7 134.2 L617.7 134.2 L620.7 134.3 L623.7 134.3 L626.7 134.3 L629.7 134.3 L632.7 134.3 L635.6 134.3 L638.6 134.3 L641.6 134.3 L644.6 134.3 L647.6 134.3 L650.6 134.3 L653.6 134.3 L656.6 134.3 L659.6 134.3 L662.6 134.3 L665.6 134.3 L668.6 134.3 L671.5 134.3 L674.5 134.3 L677.5 134.3 L680.5 134.4 L683.5 134.4 L686.5 134.4 L689.4 134.4 L692.4 134.4 L695.4 134.4 L698.4 134.5 L701.4 134.5 L704.4 134.5 L707.3 134.5 L710.3 134.5 L713.3 134.6 L716.3 134.6 L719.3 134.6 L722.2 134.6 L725.2 134.7 L728.2 134.7 L731.2 134.7 L734.2 134.8 L737.1 134.8 L740.1 134.8 L743.1 134.8 L746.1 134.9 L749.0 134.9 L752.0 134.9 L755.0 135.0 L758.0 135.0 L760.9 135.0 L763.9 135.0 L766.9 135.1 L769.8 135.1 L772.8 135.1 L775.8 135.2 L778.8 135.2 L781.7 135.2 L784.7 135.2 L787.7 135.3 L790.7 135.3 L793.7 135.3 L796.7 135.3 L799.7 135.4 L802.7 135.4 L805.7 135.4 L808.7 135.5 L811.6 135.5 L814.6 135.5 L817.5 135.6 L820.5 135.6 L823.4 135.7 L826.3 135.8 L829.1 135.8 L831.9 136.0 L834.7 136.1 L837.5 136.4 L840.3 136.6 L843.0 136.9 L845.7 137.2 L848.5 137.5 L851.2 137.7 L854.0 138.0 L856.8 138.2 L859.5 138.5 L862.3 138.7 L865.0 138.9 L867.8 139.2 L870.6 139.4 L873.3 139.6 L876.1 139.9 L878.9 140.1 L881.7 140.3 M913.6 143.4 L916.2 143.9 L918.8 144.4 L921.4 144.9 L923.9 145.5 L926.4 146.1 L928.8 146.8 L931.2 147.5 L933.6 148.2 L935.9 149.0 L938.3 149.7 M968.7 161.4 L970.6 162.7 L972.4 164.0 L974.2 165.5 L976.0 167.0 L977.7 168.6 L979.3 170.2 L980.9 171.8 L982.5 173.5 L984.1 175.2 M1001.5 199.9 L1002.5 201.8 L1003.6 203.8 L1004.6 205.7 L1005.7 207.7 L1006.7 209.7 L1007.7 211.7 L1008.7 213.7 L1009.7 215.8 L1010.6 217.8 L1011.6 219.9 L1012.5 221.9 L1013.4 224.0 L1014.4 226.1 L1015.3 228.2 L1016.2 230.3 L1017.1 232.4 L1017.9 234.6 M1028.5 263.9 L1029.3 266.5 L1030.1 269.1 L1030.9 271.7 L1031.6 274.3 L1032.3 277.0 L1033.1 279.6 L1033.8 282.3 M1042.3 314.0 L1043.1 316.4 L1043.8 318.9 L1044.6 321.3 L1045.3 323.7 L1046.1 326.2 L1046.8 328.6 L1047.5 331.1 L1048.1 333.6 L1048.7 336.1 M1053.4 369.1 L1053.9 371.8 L1054.4 374.6 L1054.8 377.4 L1055.3 380.2 L1055.8 382.9 L1056.4 385.6 L1056.9 388.4 L1057.4 391.1 M1065.7 430.3 L1066.2 433.1 L1066.7 435.9 L1067.2 438.7 L1067.7 441.5 L1068.2 444.3 L1068.7 447.1 L1069.2 449.9 L1069.7 452.7 L1070.3 455.5 M1075.8 481.6 L1076.4 484.2 L1077.0 486.8 L1077.7 489.4 L1078.3 492.0 L1078.9 494.6 L1079.6 497.2 L1080.2 499.7 L1080.9 502.3 L1081.5 504.9 L1082.2 507.4 M1091.5 537.3 L1092.3 539.5 L1093.2 541.7 L1094.1 543.9 L1095.0 546.0 L1095.9 548.2 L1096.9 550.3 L1097.9 552.4 L1098.9 554.4 L1099.9 556.5 L1100.9 558.5 L1102.0 560.4 M1123.4 588.1 L1125.1 589.8 L1127.0 591.5 L1128.9 593.1 L1130.8 594.6 L1132.8 596.1 L1134.9 597.4 M1171.6 611.4 L1173.9 612.2 L1176.3 612.9 L1178.6 613.6 L1181.0 614.3 L1183.4 615.0 L1185.8 615.6 L1188.2 616.3 L1190.6 617.0 L1193.0 617.7 M1225.0 626.5 L1227.3 627.3 L1229.6 628.1 L1232.0 629.0 L1234.3 629.8 L1236.5 630.7 L1238.8 631.6 L1241.1 632.5 L1243.3 633.5 L1245.5 634.4 L1247.7 635.4 L1249.8 636.4 L1251.9 637.5 L1254.0 638.5 L1256.0 639.6 L1258.0 640.7 M1287.1 663.7 L1289.0 665.1 L1290.8 666.5 L1292.7 667.9 L1294.6 669.3 L1296.5 670.8 L1298.3 672.2 L1300.1 673.7 M1323.8 696.1 L1325.6 697.6 L1327.5 699.0 L1329.4 700.3 L1331.4 701.7 L1333.3 703.1 L1335.2 704.5 L1337.0 706.0 M1356.9 727.7 L1358.5 729.3 L1360.2 730.9 L1361.8 732.5 L1363.5 734.0 L1365.2 735.6 L1366.9 737.1 L1368.6 738.7 L1370.2 740.2 L1371.9 741.8 M1397.7 768.2 L1399.3 769.8 L1400.8 771.4 L1402.4 773.0 L1403.9 774.6 L1405.5 776.1 L1407.0 777.7 L1408.6 779.3 L1410.1 780.9 L1411.7 782.5 L1413.2 784.1 L1414.8 785.8 L1416.3 787.4 L1417.8 789.0 L1419.4 790.6 L1420.9 792.2 L1422.4 793.9 L1423.9 795.5 L1425.4 797.2 L1426.9 798.8 M1445.4 821.1 L1447.0 822.9 L1448.5 824.8 L1450.1 826.7 L1451.6 828.5 L1453.2 830.4 L1454.7 832.3 L1456.3 834.1 M1475.1 857.6 L1476.6 859.3 L1478.0 861.1 L1479.5 862.9 L1480.9 864.6 L1482.4 866.4 L1483.8 868.1 L1485.3 869.9 L1486.8 871.6 M1504.9 891.6 L1506.4 893.3 L1507.9 895.0 L1509.4 896.7 L1510.9 898.4 L1512.4 900.0 L1513.9 901.7 L1515.4 903.4 L1516.9 905.1 L1518.4 906.7 L1519.9 908.4 M1539.0 928.3 L1540.5 929.9 L1541.9 931.4 L1543.4 933.0 L1544.9 934.6 L1546.4 936.1 L1547.9 937.7 L1549.3 939.3 L1550.8 940.8 L1552.3 942.4 M1569.6 961.6 L1571.3 963.3 L1572.9 965.1 L1574.6 966.8 L1576.2 968.6 L1577.9 970.3 L1579.5 972.1 L1581.1 973.9 M1602.8 999.2 L1604.3 1000.9 L1605.7 1002.5 L1607.2 1004.2 L1608.7 1005.8 L1610.2 1007.5 L1611.7 1009.1 L1613.2 1010.8 L1614.7 1012.4 L1616.1 1014.1"/>
</g>
<g stroke="#000" stroke-width="6" fill="none" shape-rendering="crispEdges">
<rect x="248" y="34" width="1404" height="1001"/>
<path stroke-width="6.6" d="M335.8 1035V1020M335.8 34V49M423.5 1035V1005M423.5 34V64M511.3 1035V1020M511.3 34V49M599.0 1035V1005M599.0 34V64M686.8 1035V1020M686.8 34V49M774.5 1035V1005M774.5 34V64M862.3 1035V1020M862.3 34V49M950.0 1035V1005M950.0 34V64M1037.8 1035V1020M1037.8 34V49M1125.6 1035V1005M1125.6 34V64M1213.3 1035V1020M1213.3 34V49M1301.1 1035V1005M1301.1 34V64M1388.8 1035V1020M1388.8 34V49M1476.6 1035V1005M1476.6 34V64M1564.3 1035V1020M1564.3 34V49M248 935.2H278M1652 935.2H1622M248 835.1H263M1652 835.1H1637M248 734.9H278M1652 734.9H1622M248 634.8H263M1652 634.8H1637M248 534.6H278M1652 534.6H1622M248 434.5H263M1652 434.5H1637M248 334.3H278M1652 334.3H1622M248 234.2H263M1652 234.2H1637M248 134.0H278M1652 134.0H1622"/>
</g>
<g class="tk" text-anchor="middle">
<text transform="translate(248.0,1119) scale(1,1.03)">0</text><text transform="translate(423.5,1119) scale(1,1.03)">100</text><text transform="translate(599.0,1119) scale(1,1.03)">200</text><text transform="translate(774.5,1119) scale(1,1.03)">300</text><text transform="translate(950.0,1119) scale(1,1.03)">400</text><text transform="translate(1125.6,1119) scale(1,1.03)">500</text><text transform="translate(1301.1,1119) scale(1,1.03)">600</text><text transform="translate(1476.6,1119) scale(1,1.03)">700</text><text transform="translate(1652.1,1119) scale(1,1.03)">800</text>
</g>
<g class="tk" text-anchor="end">
<text transform="translate(218,954.6) scale(1,1.012)">20</text><text transform="translate(218,754.3) scale(1,1.012)">40</text><text transform="translate(218,554.0) scale(1,1.012)">60</text><text transform="translate(218,353.7) scale(1,1.012)">80</text><text transform="translate(218,153.4) scale(1,1.012)">100</text>
</g>
<text class="ax" transform="translate(664.5,1254) scale(0.98,1)">Temperature (</text>
<text class="ax" font-size="51" style="font-size:51px" transform="translate(1124.1,1221.8) scale(0.935,1)">O</text>
<text class="ax" transform="translate(1160,1254) scale(0.98,1)">C)</text>
<text class="ax" transform="translate(76,712) rotate(-90) scale(0.96,1)">Weight (%)</text>
<g fill="none" stroke-width="9" stroke-linecap="round" shape-rendering="crispEdges">
<path stroke="#00ff00" d="M339.5 261.2H483.3"/><path stroke="#00ff00" d="M339.5 356.9H371M415 356.9H446.8"/><path stroke="#ff0000" d="M339.5 436.8H483.3"/><path stroke="#ff0000" d="M339.5 532.8H371M415 532.8H446.8"/><path stroke="#ff00ff" d="M339.5 612.4H483.3"/><path stroke="#ff00ff" d="M339.5 709H371M415 709H446.8"/><path stroke="#0000ff" d="M339.5 788.6H483.3"/><path stroke="#0000ff" d="M339.5 885H371M415 885H446.8"/>
</g>
<g class="lg">
<text transform="translate(0,282.9) scale(0.926,1)" x="543.0 592.6 638.1 675.6 696.1 745.1 754.9" y="0">CP1-a N<tspan font-size="44.5" x="803.1" dy="20">2</tspan></text>
<text transform="translate(0,379.5) scale(0.926,1)" x="543.0 592.6 638.1 675.6 696.1 739.7 753.7 791.4 811.1" y="0">CP1-a air</text>
<text transform="translate(0,458.8) scale(0.926,1)" x="543.0 592.6 638.1 675.6 697.4 745.1 758.3" y="0">CP1-b N<tspan font-size="44.5" x="806.6" dy="20">2</tspan></text>
<text transform="translate(0,555.9) scale(0.926,1)" x="543.0 592.6 638.1 675.6 697.4 743.0 757.4 795.2 814.8" y="0">CP1-b air</text>
<text transform="translate(0,635.0) scale(0.926,1)" x="543.0 592.6 638.1 675.6 697.3 745.1 754.9" y="0">CP1-c N<tspan font-size="44.5" x="803.1" dy="20">2</tspan></text>
<text transform="translate(0,731.0) scale(0.926,1)" x="543.0 592.6 638.1 675.6 697.3 739.7 753.7 791.4 811.1" y="0">CP1-c air</text>
<text transform="translate(0,811.0) scale(0.926,1)" x="543.0 592.6 638.2 682.5 694.1" y="0">CP2 N<tspan font-size="44.5" x="742.7" dy="20">2</tspan></text>
<text transform="translate(0,906.9) scale(0.926,1)" x="543.0 592.6 638.2 680.3 693.3 731.5 750.7" y="0">CP2 air</text>

</g>
</svg>
</body></html>
